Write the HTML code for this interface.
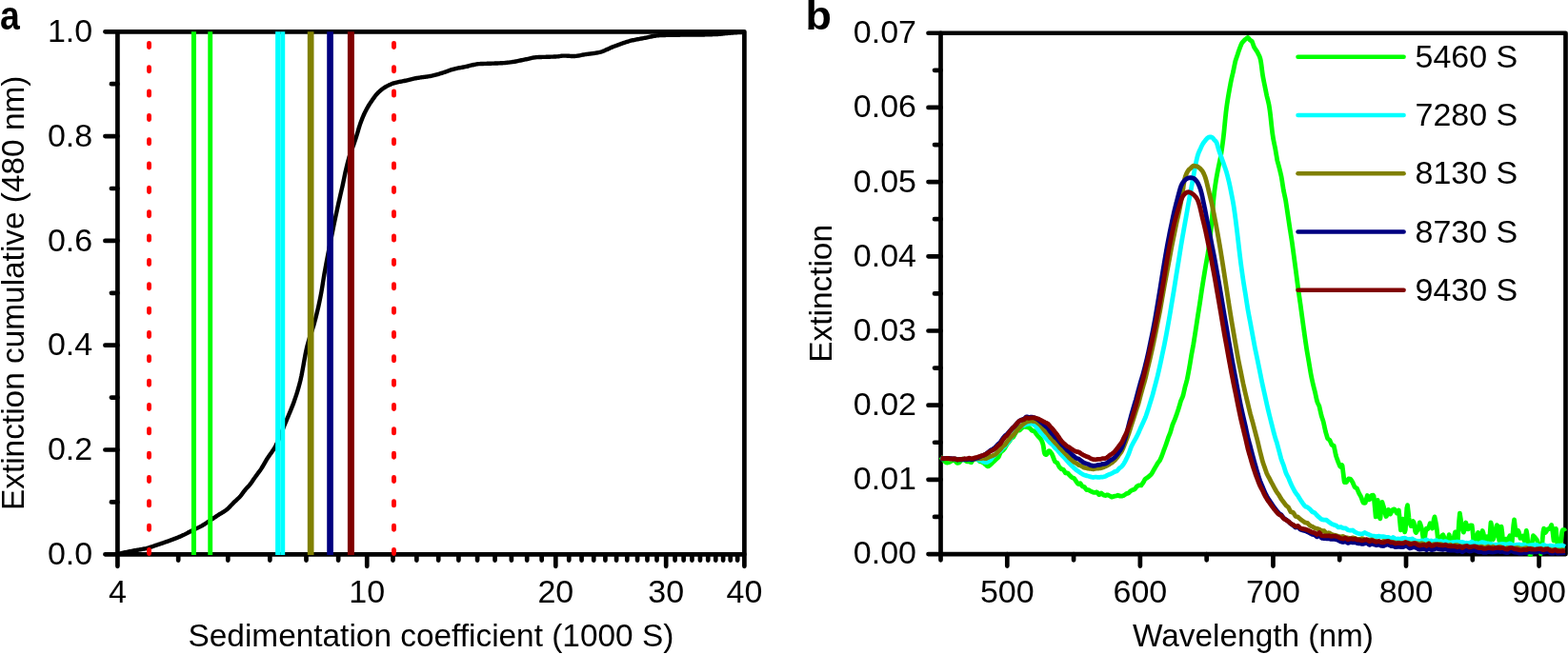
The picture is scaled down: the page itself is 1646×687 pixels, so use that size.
<!DOCTYPE html><html><head><meta charset="utf-8"><style>html,body{margin:0;padding:0;background:#fff;}body{width:1646px;height:687px;overflow:hidden;}svg{display:block;}text{font-family:"Liberation Sans",sans-serif;fill:#000;}.t{font-size:34px;}.lab{font-size:33.4px;}.pl{font-size:42px;font-weight:bold;}</style></head><body>
<svg width="1646" height="687" viewBox="0 0 1646 687">
<rect width="1646" height="687" fill="#fff"/>
<path d="M123.4,582 124.4,581.78 125.4,581.56 126.4,581.34 127.4,581.12 128.4,580.91 129.4,580.7 130.4,580.48 131.4,580.27 132.4,580.07 133.4,579.86 134.4,579.66 135.4,579.45 136.4,579.25 137.4,579.05 138.4,578.85 139.4,578.66 140.4,578.47 141.4,578.28 142.4,578.11 143.4,577.94 144.4,577.77 145.4,577.6 146.4,577.43 147.4,577.26 148.4,577.09 149.4,576.9 150.4,576.71 151.4,576.51 152.4,576.29 153.4,576.06 154.4,575.8 155.4,575.53 156.4,575.24 157.4,574.94 158.4,574.62 159.4,574.3 160.4,573.96 161.4,573.63 162.4,573.29 163.4,572.94 164.4,572.6 165.4,572.27 166.4,571.93 167.4,571.6 168.4,571.26 169.4,570.92 170.4,570.58 171.4,570.23 172.4,569.88 173.4,569.53 174.4,569.18 175.4,568.82 176.4,568.46 177.4,568.09 178.4,567.72 179.4,567.35 180.4,566.98 181.4,566.61 182.4,566.24 183.4,565.86 184.4,565.48 185.4,565.09 186.4,564.7 187.4,564.3 188.4,563.89 189.4,563.47 190.4,563.03 191.4,562.58 192.4,562.11 193.4,561.63 194.4,561.12 195.4,560.61 196.4,560.09 197.4,559.56 198.4,559.04 199.4,558.52 200.4,558 201.4,557.5 202.4,557.01 203.4,556.53 204.4,556.05 205.4,555.58 206.4,555.1 207.4,554.62 208.4,554.13 209.4,553.63 210.4,553.11 211.4,552.57 212.4,552 213.4,551.4 214.4,550.78 215.4,550.15 216.4,549.49 217.4,548.83 218.4,548.16 219.4,547.49 220.4,546.83 221.4,546.17 222.4,545.51 223.4,544.84 224.4,544.17 225.4,543.5 226.4,542.82 227.4,542.16 228.4,541.5 229.4,540.85 230.4,540.23 231.4,539.63 232.4,539.04 233.4,538.44 234.4,537.83 235.4,537.19 236.4,536.51 237.4,535.78 238.4,534.99 239.4,534.1 240.4,533.14 241.4,532.11 242.4,531.05 243.4,529.98 244.4,528.92 245.4,527.89 246.4,526.93 247.4,526.01 248.4,525.11 249.4,524.2 250.4,523.25 251.4,522.23 252.4,521.1 253.4,519.83 254.4,518.47 255.4,517.09 256.4,515.75 257.4,514.52 258.4,513.4 259.4,512.32 260.4,511.26 261.4,510.16 262.4,509 263.4,507.72 264.4,506.32 265.4,504.84 266.4,503.34 267.4,501.86 268.4,500.44 269.4,499.09 270.4,497.76 271.4,496.44 272.4,495.07 273.4,493.65 274.4,492.12 275.4,490.49 276.4,488.78 277.4,487.04 278.4,485.3 279.4,483.6 280.4,481.96 281.4,480.42 282.4,478.97 283.4,477.58 284.4,476.2 285.4,474.8 286.4,473.34 287.4,471.8 288.4,470.13 289.4,468.31 290.4,466.33 291.4,464.22 292.4,462 293.4,459.67 294.4,457.28 295.4,454.82 296.4,452.32 297.4,449.81 298.4,447.29 299.4,444.78 300.4,442.31 301.4,439.9 302.4,437.53 303.4,435.17 304.4,432.8 305.4,430.4 306.4,427.92 307.4,425.36 308.4,422.67 309.4,419.84 310.4,416.89 311.4,413.82 312.4,410.59 313.4,407.16 314.4,403.51 315.4,399.58 316.4,395.02 317.4,389.86 318.4,384.34 319.4,378.72 320.4,373.26 321.4,368.2 322.4,363.8 323.4,360.03 324.4,356.64 325.4,353.5 326.4,350.51 327.4,347.55 328.4,344.51 329.4,341.29 330.4,337.77 331.4,333.96 332.4,329.98 333.4,325.8 334.4,321.42 335.4,316.79 336.4,311.91 337.4,306.55 338.4,300.53 339.4,294.27 340.4,288.21 341.4,282.62 342.4,277.21 343.4,271.93 344.4,266.74 345.4,261.62 346.4,256.55 347.4,251.49 348.4,246.47 349.4,241.51 350.4,236.62 351.4,231.8 352.4,227.07 353.4,222.43 354.4,217.85 355.4,213.34 356.4,208.92 357.4,204.61 358.4,200.31 359.4,195.91 360.4,191.22 361.4,186.32 362.4,181.54 363.4,177.15 364.4,172.95 365.4,169.04 366.4,165.54 367.4,162.47 368.4,159.66 369.4,157 370.4,154.32 371.4,151.5 372.4,148.53 373.4,145.5 374.4,142.4 375.4,139.19 376.4,135.72 377.4,132.33 378.4,129.37 379.4,126.67 380.4,124.12 381.4,121.73 382.4,119.49 383.4,117.4 384.4,115.45 385.4,113.62 386.4,111.9 387.4,110.25 388.4,108.68 389.4,107.17 390.4,105.71 391.4,104.27 392.4,102.86 393.4,101.5 394.4,100.2 395.4,99 396.4,97.9 397.4,96.92 398.4,95.99 399.4,95.11 400.4,94.28 401.4,93.5 402.4,92.78 403.4,92.11 404.4,91.5 405.4,90.93 406.4,90.38 407.4,89.86 408.4,89.36 409.4,88.89 410.4,88.45 411.4,88.05 412.4,87.68 413.4,87.35 414.4,87.06 415.4,86.8 416.4,86.56 417.4,86.35 418.4,86.14 419.4,85.95 420.4,85.77 421.4,85.58 422.4,85.39 423.4,85.19 424.4,84.98 425.4,84.75 426.4,84.52 427.4,84.28 428.4,84.04 429.4,83.79 430.4,83.55 431.4,83.31 432.4,83.07 433.4,82.84 434.4,82.62 435.4,82.41 436.4,82.22 437.4,82.04 438.4,81.87 439.4,81.71 440.4,81.56 441.4,81.42 442.4,81.28 443.4,81.15 444.4,81.01 445.4,80.88 446.4,80.75 447.4,80.61 448.4,80.47 449.4,80.32 450.4,80.16 451.4,79.99 452.4,79.81 453.4,79.62 454.4,79.41 455.4,79.18 456.4,78.93 457.4,78.67 458.4,78.39 459.4,78.11 460.4,77.81 461.4,77.5 462.4,77.2 463.4,76.88 464.4,76.57 465.4,76.26 466.4,75.95 467.4,75.61 468.4,75.25 469.4,74.88 470.4,74.51 471.4,74.14 472.4,73.78 473.4,73.43 474.4,73.1 475.4,72.8 476.4,72.53 477.4,72.28 478.4,72.05 479.4,71.84 480.4,71.64 481.4,71.45 482.4,71.26 483.4,71.08 484.4,70.9 485.4,70.72 486.4,70.54 487.4,70.35 488.4,70.16 489.4,69.95 490.4,69.73 491.4,69.49 492.4,69.24 493.4,68.99 494.4,68.74 495.4,68.48 496.4,68.24 497.4,68.01 498.4,67.79 499.4,67.59 500.4,67.42 501.4,67.28 502.4,67.17 503.4,67.09 504.4,67.04 505.4,67 506.4,66.96 507.4,66.93 508.4,66.9 509.4,66.87 510.4,66.84 511.4,66.82 512.4,66.79 513.4,66.76 514.4,66.73 515.4,66.7 516.4,66.66 517.4,66.63 518.4,66.59 519.4,66.56 520.4,66.53 521.4,66.49 522.4,66.45 523.4,66.41 524.4,66.37 525.4,66.32 526.4,66.27 527.4,66.21 528.4,66.15 529.4,66.07 530.4,65.99 531.4,65.9 532.4,65.79 533.4,65.68 534.4,65.57 535.4,65.44 536.4,65.32 537.4,65.19 538.4,65.04 539.4,64.88 540.4,64.71 541.4,64.52 542.4,64.33 543.4,64.12 544.4,63.91 545.4,63.7 546.4,63.49 547.4,63.27 548.4,63.06 549.4,62.86 550.4,62.66 551.4,62.46 552.4,62.25 553.4,62.03 554.4,61.8 555.4,61.56 556.4,61.33 557.4,61.11 558.4,60.89 559.4,60.69 560.4,60.51 561.4,60.36 562.4,60.23 563.4,60.14 564.4,60.08 565.4,60.04 566.4,60 567.4,59.97 568.4,59.94 569.4,59.91 570.4,59.89 571.4,59.87 572.4,59.84 573.4,59.81 574.4,59.78 575.4,59.75 576.4,59.72 577.4,59.69 578.4,59.66 579.4,59.63 580.4,59.59 581.4,59.55 582.4,59.51 583.4,59.47 584.4,59.42 585.4,59.35 586.4,59.23 587.4,59.09 588.4,58.94 589.4,58.8 590.4,58.68 591.4,58.61 592.4,58.6 593.4,58.62 594.4,58.66 595.4,58.7 596.4,58.76 597.4,58.82 598.4,58.87 599.4,58.93 600.4,58.97 601.4,58.99 602.4,59 603.4,58.97 604.4,58.89 605.4,58.78 606.4,58.64 607.4,58.48 608.4,58.3 609.4,58.11 610.4,57.91 611.4,57.71 612.4,57.52 613.4,57.34 614.4,57.19 615.4,57.04 616.4,56.9 617.4,56.77 618.4,56.64 619.4,56.51 620.4,56.38 621.4,56.25 622.4,56.11 623.4,55.97 624.4,55.82 625.4,55.66 626.4,55.49 627.4,55.31 628.4,55.11 629.4,54.89 630.4,54.62 631.4,54.31 632.4,53.97 633.4,53.59 634.4,53.19 635.4,52.76 636.4,52.32 637.4,51.87 638.4,51.41 639.4,50.95 640.4,50.49 641.4,50.04 642.4,49.61 643.4,49.2 644.4,48.81 645.4,48.44 646.4,48.08 647.4,47.71 648.4,47.34 649.4,46.97 650.4,46.6 651.4,46.23 652.4,45.87 653.4,45.52 654.4,45.17 655.4,44.82 656.4,44.49 657.4,44.16 658.4,43.85 659.4,43.55 660.4,43.26 661.4,42.98 662.4,42.72 663.4,42.48 664.4,42.25 665.4,42.03 666.4,41.82 667.4,41.62 668.4,41.42 669.4,41.23 670.4,41.05 671.4,40.87 672.4,40.69 673.4,40.51 674.4,40.33 675.4,40.14 676.4,39.95 677.4,39.75 678.4,39.54 679.4,39.33 680.4,39.12 681.4,38.9 682.4,38.69 683.4,38.48 684.4,38.28 685.4,38.09 686.4,37.9 687.4,37.73 688.4,37.58 689.4,37.44 690.4,37.32 691.4,37.22 692.4,37.15 693.4,37.1 694.4,37.06 695.4,37.02 696.4,36.99 697.4,36.96 698.4,36.93 699.4,36.91 700.4,36.88 701.4,36.86 702.4,36.84 703.4,36.82 704.4,36.8 705.4,36.78 706.4,36.77 707.4,36.75 708.4,36.74 709.4,36.73 710.4,36.71 711.4,36.7 712.4,36.69 713.4,36.68 714.4,36.67 715.4,36.66 716.4,36.65 717.4,36.64 718.4,36.64 719.4,36.63 720.4,36.62 721.4,36.62 722.4,36.61 723.4,36.61 724.4,36.6 725.4,36.59 726.4,36.59 727.4,36.58 728.4,36.57 729.4,36.57 730.4,36.56 731.4,36.55 732.4,36.54 733.4,36.53 734.4,36.52 735.4,36.51 736.4,36.49 737.4,36.48 738.4,36.46 739.4,36.44 740.4,36.41 741.4,36.39 742.4,36.36 743.4,36.33 744.4,36.3 745.4,36.27 746.4,36.23 747.4,36.2 748.4,36.16 749.4,36.11 750.4,36.07 751.4,36.03 752.4,35.98 753.4,35.93 754.4,35.88 755.4,35.81 756.4,35.73 757.4,35.63 758.4,35.53 759.4,35.42 760.4,35.3 761.4,35.18 762.4,35.07 763.4,34.96 764.4,34.86 765.4,34.76 766.4,34.69 767.4,34.61 768.4,34.54 769.4,34.47 770.4,34.4 771.4,34.33 772.4,34.27 773.4,34.2 774.4,34.14 775.4,34.09 776.4,34.03 777.4,33.98 778.4,33.93 779.4,33.88 780.4,33.84 781.4,33.8" fill="none" stroke="#000" stroke-width="4.4" stroke-linejoin="round"/>
<path d="M123.4,582.3H110.4M123.4,527.4H116.9M123.4,472.5H110.4M123.4,417.6H116.9M123.4,362.7H110.4M123.4,307.8H116.9M123.4,252.9H110.4M123.4,198H116.9M123.4,143.1H110.4M123.4,88.2H116.9M123.4,33.3H110.4M123.4,582.3V594.8M187.17,582.3V588.6M239.27,582.3V588.6M283.32,582.3V588.6M321.48,582.3V588.6M355.14,582.3V588.6M385.24,582.3V594.8M412.48,582.3V588.6M437.35,582.3V588.6M460.22,582.3V588.6M481.4,582.3V588.6M501.11,582.3V588.6M519.56,582.3V588.6M536.88,582.3V588.6M553.21,582.3V588.6M568.66,582.3V588.6M583.32,582.3V594.8M597.26,582.3V588.6M610.56,582.3V588.6M623.26,582.3V588.6M635.42,582.3V588.6M647.09,582.3V588.6M658.3,582.3V588.6M669.08,582.3V588.6M679.47,582.3V588.6M689.5,582.3V588.6M699.19,582.3V594.8M708.56,582.3V588.6M717.63,582.3V588.6M726.43,582.3V588.6M734.96,582.3V588.6M743.24,582.3V588.6M751.29,582.3V588.6M759.12,582.3V588.6M766.74,582.3V588.6M774.17,582.3V588.6M781.4,582.3V594.8" stroke="#000" stroke-width="4.7" stroke-linecap="round" fill="none"/>
<rect x="123.4" y="33.3" width="658" height="549" fill="none" stroke="#000" stroke-width="4.7" stroke-linejoin="round"/>
<path d="M156.5,45.35V49.45M156.5,70.69V74.79M156.5,96.03V100.13M156.5,121.37V125.47M156.5,146.71V150.81M156.5,172.05V176.15M156.5,197.39V201.49M156.5,222.73V226.83M156.5,248.07V252.17M156.5,273.41V277.51M156.5,298.75V302.85M156.5,324.09V328.19M156.5,349.43V353.53M156.5,374.77V378.87M156.5,400.11V404.21M156.5,425.45V429.55M156.5,450.79V454.89M156.5,476.13V480.23M156.5,501.47V505.57M156.5,526.81V530.91M156.5,552.15V556.25M156.5,577.49V581.59" stroke="#f00" stroke-width="4.9" stroke-linecap="round" fill="none"/>
<path d="M413.5,45.35V49.45M413.5,70.69V74.79M413.5,96.03V100.13M413.5,121.37V125.47M413.5,146.71V150.81M413.5,172.05V176.15M413.5,197.39V201.49M413.5,222.73V226.83M413.5,248.07V252.17M413.5,273.41V277.51M413.5,298.75V302.85M413.5,324.09V328.19M413.5,349.43V353.53M413.5,374.77V378.87M413.5,400.11V404.21M413.5,425.45V429.55M413.5,450.79V454.89M413.5,476.13V480.23M413.5,501.47V505.57M413.5,526.81V530.91M413.5,552.15V556.25M413.5,577.49V581.59" stroke="#f00" stroke-width="4.9" stroke-linecap="round" fill="none"/>
<path d="M203.4,33.3V583.1" stroke="#00ff00" stroke-width="5.0" fill="none"/>
<path d="M220.7,33.3V583.1" stroke="#00ff00" stroke-width="4.9" fill="none"/>
<path d="M291.8,33.3V583.1" stroke="#00ffff" stroke-width="5.4" fill="none"/>
<path d="M296.8,33.3V583.1" stroke="#00ffff" stroke-width="4.8" fill="none"/>
<path d="M326.15,33.3V583.1" stroke="#808000" stroke-width="6.7" fill="none"/>
<path d="M346.55,33.3V583.1" stroke="#000080" stroke-width="6.7" fill="none"/>
<path d="M368.4,33.3V583.1" stroke="#800000" stroke-width="7.0" fill="none"/>
<text class="t" x="97.2" y="593" text-anchor="end">0.0</text>
<text class="t" x="97.2" y="483.2" text-anchor="end">0.2</text>
<text class="t" x="97.2" y="373.4" text-anchor="end">0.4</text>
<text class="t" x="97.2" y="263.6" text-anchor="end">0.6</text>
<text class="t" x="97.2" y="153.8" text-anchor="end">0.8</text>
<text class="t" x="97.2" y="44" text-anchor="end">1.0</text>
<text class="t" x="123.4" y="633" text-anchor="middle">4</text>
<text class="t" x="385.24" y="633" text-anchor="middle">10</text>
<text class="t" x="583.32" y="633" text-anchor="middle">20</text>
<text class="t" x="699.19" y="633" text-anchor="middle">30</text>
<text class="t" x="781.4" y="633" text-anchor="middle">40</text>
<text class="lab" x="452.4" y="679.3" text-anchor="middle">Sedimentation coefficient (1000 S)</text>
<text class="lab" transform="translate(24.6,307.8) rotate(-90)" text-anchor="middle">Extinction cumulative (480 nm)</text>
<text class="pl" transform="translate(0,31) scale(0.89,1)">a</text>
<path d="M987.5,582.05H974.5M987.5,542.96H981M987.5,503.86H974.5M987.5,464.77H981M987.5,425.68H974.5M987.5,386.59H981M987.5,347.49H974.5M987.5,308.4H981M987.5,269.31H974.5M987.5,230.21H981M987.5,191.12H974.5M987.5,152.03H981M987.5,112.94H974.5M987.5,73.84H981M987.5,34.75H974.5M987.5,582.05V588.35M1057.29,582.05V594.55M1127.07,582.05V588.35M1196.86,582.05V594.55M1266.65,582.05V588.35M1336.44,582.05V594.55M1406.22,582.05V588.35M1476.01,582.05V594.55M1545.8,582.05V588.35M1615.59,582.05V594.55" stroke="#000" stroke-width="4.7" stroke-linecap="round" fill="none"/>
<rect x="987.5" y="34.75" width="656" height="547.3" fill="none" stroke="#000" stroke-width="4.7" stroke-linejoin="round"/>
<path d="M987.5,479.89 988.12,480.66 988.75,481.56 989.37,482.15 990,482.77 990.64,483.4 991.27,484.07 991.91,484.76 992.56,485.37 993.21,485.88 993.87,486.04 994.53,486.03 995.2,485.82 995.88,485.66 996.58,485.46 997.28,485.2 998.01,484.77 998.75,484.25 999.52,483.85 1000.32,483.53 1001.14,483.34 1001.97,483.28 1002.8,484.29 1003.62,485.33 1004.41,486.12 1005.16,486.29 1005.85,486.29 1006.48,486.1 1007.04,485.82 1007.54,485.35 1008.01,484.79 1008.47,484.24 1008.93,483.48 1009.42,482.77 1009.96,482.33 1010.55,482.13 1011.19,482.29 1011.86,482.72 1012.56,483.21 1013.28,483.73 1014.02,484.27 1014.77,484.72 1015.52,484.97 1016.26,484.95 1016.98,484.78 1017.68,484.85 1018.34,485.32 1018.99,485.62 1019.63,485.75 1020.28,484.68 1020.94,483.6 1021.63,482.52 1022.36,481.96 1023.13,481.65 1023.93,481.44 1024.75,481.66 1025.57,482.02 1026.39,482.53 1027.2,483.32 1027.98,484.18 1028.72,484.73 1029.42,484.87 1030.1,485.08 1030.75,485.34 1031.38,485.64 1031.99,485.95 1032.6,486.25 1033.2,486.78 1033.8,487.38 1034.4,487.92 1035.02,488.38 1035.64,489 1036.29,489.5 1036.96,489.88 1037.64,489.76 1038.34,489.3 1039.04,488.74 1039.74,488.12 1040.44,487.46 1041.11,486.74 1041.77,486.06 1042.4,485.57 1042.99,485.05 1043.54,484.52 1044.07,484.02 1044.57,483.55 1045.05,483.08 1045.52,482.6 1045.98,482.12 1046.44,481.7 1046.9,481.28 1047.37,480.89 1047.86,480.52 1048.36,479.88 1048.88,478.61 1049.41,477.33 1049.96,476.06 1050.51,474.94 1051.06,474.52 1051.62,474.11 1052.17,473.69 1052.72,473.22 1053.26,472.6 1053.8,471.98 1054.32,471.34 1054.82,470.68 1055.32,469.8 1055.8,468.92 1056.28,468.04 1056.74,467.14 1057.2,466.44 1057.65,465.96 1058.1,465.47 1058.54,464.97 1058.98,464.47 1059.42,463.86 1059.85,463.15 1060.29,462.43 1060.73,461.72 1061.16,461.01 1061.6,460.49 1062.05,460.2 1062.5,459.91 1062.95,459.64 1063.42,459.39 1063.89,458.75 1064.37,457.87 1064.86,456.99 1065.36,456.12 1065.88,455.25 1066.4,454.34 1066.95,453.45 1067.5,452.56 1068.08,451.81 1068.67,451.85 1069.28,451.94 1069.91,452.07 1070.56,451.76 1071.23,451.07 1071.93,450.41 1072.65,449.73 1073.38,449.01 1074.12,448.33 1074.87,447.98 1075.63,448.18 1076.39,448.44 1077.15,448.62 1077.9,448.67 1078.64,448.81 1079.37,448.99 1080.08,449.22 1080.77,449.54 1081.45,450.06 1082.12,450.84 1082.77,451.66 1083.43,452.45 1084.08,452.5 1084.72,452.54 1085.37,452.54 1086.02,453.18 1086.67,454.13 1087.31,455.07 1087.94,455.97 1088.55,456.77 1089.15,457.55 1089.74,458.33 1090.3,458.93 1090.84,459.4 1091.35,459.88 1091.83,460.39 1092.29,460.94 1092.71,461.58 1093.1,462.24 1093.47,462.94 1093.8,463.67 1094.11,464.44 1094.4,465.25 1094.66,466.07 1094.89,466.94 1095.11,467.85 1095.3,468.82 1095.46,469.83 1095.61,470.9 1095.75,471.99 1095.89,473.07 1096.05,474.11 1096.23,475.06 1096.45,475.9 1096.73,476.61 1097.06,477.17 1097.48,477.52 1097.98,477.64 1098.57,477.49 1099.24,476.61 1099.95,475.32 1100.66,474.05 1101.34,473.58 1101.94,473.91 1102.47,474.45 1102.94,475.16 1103.34,475.76 1103.71,476.06 1104.04,476.53 1104.34,477.12 1104.64,477.79 1104.93,478.49 1105.24,479.18 1105.56,480.07 1105.92,481.18 1106.31,482.23 1106.74,483.23 1107.2,484.18 1107.68,485 1108.19,485.34 1108.71,485.62 1109.26,485.87 1109.81,486.1 1110.38,487.28 1110.95,488.46 1111.53,489.64 1112.11,490.71 1112.69,491.27 1113.27,491.83 1113.86,492.4 1114.44,492.8 1115.02,492.94 1115.61,493.09 1116.2,493.24 1116.78,493.95 1117.37,494.95 1117.96,495.95 1118.55,496.96 1119.15,496.98 1119.74,496.92 1120.34,496.86 1120.94,496.98 1121.54,497.73 1122.14,498.47 1122.74,499.21 1123.35,499.84 1123.95,500.38 1124.56,500.92 1125.17,501.45 1125.79,501.7 1126.4,501.93 1127.02,502.15 1127.64,502.64 1128.27,503.55 1128.89,504.46 1129.52,505.36 1130.15,506.27 1130.78,507.17 1131.42,508.07 1132.06,508.49 1132.7,508.21 1133.35,507.93 1133.99,507.63 1134.64,508.61 1135.3,509.6 1135.96,510.59 1136.62,511.06 1137.28,511.23 1137.95,511.39 1138.62,511.81 1139.29,512.77 1139.97,513.73 1140.65,514.61 1141.34,514.65 1142.03,514.68 1142.72,514.7 1143.42,515.09 1144.12,515.51 1144.82,515.92 1145.53,516.27 1146.25,516.59 1146.97,516.9 1147.69,517.12 1148.41,517.3 1149.14,517.47 1149.88,517.37 1150.62,517.13 1151.36,516.87 1152.11,517.52 1152.87,518.6 1153.62,519.67 1154.39,519.4 1155.15,518.72 1155.92,518.03 1156.69,518.56 1157.47,519.23 1158.25,519.87 1159.03,520.14 1159.82,520.4 1160.61,520.5 1161.4,520.16 1162.19,519.81 1162.99,519.86 1163.79,520.3 1164.59,520.75 1165.39,521.2 1166.2,521.66 1167.01,522.12 1167.81,521.86 1168.62,521.59 1169.43,521.36 1170.25,521.21 1171.06,521.05 1171.86,520.83 1172.67,520.56 1173.47,520.27 1174.26,520.53 1175.04,520.86 1175.82,521.13 1176.58,521.16 1177.34,521.12 1178.08,521.02 1178.81,520.78 1179.52,520.49 1180.23,520.15 1180.93,519.64 1181.63,519.09 1182.31,518.53 1182.99,518.38 1183.67,518.27 1184.34,518.16 1185.01,517.67 1185.68,516.93 1186.34,516.21 1187.01,515.61 1187.67,515.28 1188.33,514.96 1188.99,514.63 1189.64,514.4 1190.3,514.16 1190.95,513.93 1191.59,513.31 1192.24,512.46 1192.88,511.6 1193.52,510.84 1194.15,510.52 1194.78,510.19 1195.4,509.86 1196.03,509.81 1196.64,509.9 1197.26,509.97 1197.86,509.94 1198.47,509.14 1199.07,508.34 1199.66,507.53 1200.25,506.61 1200.84,505.55 1201.42,504.48 1201.99,503.41 1202.56,502.84 1203.13,502.54 1203.69,502.24 1204.24,501.93 1204.79,501.52 1205.33,501.06 1205.87,500.6 1206.4,500.13 1206.93,499.66 1207.45,499.18 1207.96,498.69 1208.47,498.2 1208.97,497.58 1209.47,496.72 1209.96,495.85 1210.44,494.99 1210.92,494.12 1211.39,493.31 1211.85,492.52 1212.31,491.73 1212.76,490.93 1213.2,490.13 1213.63,489.41 1214.06,488.69 1214.48,487.97 1214.9,487.24 1215.31,486.52 1215.7,485.98 1216.1,485.5 1216.48,485.02 1216.86,484.52 1217.23,484.02 1217.59,483.51 1217.94,482.76 1218.29,481.99 1218.63,481.23 1218.96,480.46 1219.29,479.69 1219.61,478.92 1219.92,478.13 1220.23,477.29 1220.53,476.46 1220.83,475.62 1221.13,474.79 1221.42,473.95 1221.7,473.11 1221.98,472.28 1222.26,471.57 1222.53,470.86 1222.81,470.15 1223.07,469.44 1223.34,468.73 1223.6,468.01 1223.86,467.3 1224.12,466.58 1224.38,465.82 1224.64,465.05 1224.9,464.27 1225.15,463.49 1225.41,462.71 1225.66,461.93 1225.92,461.15 1226.17,460.37 1226.42,459.6 1226.68,458.96 1226.93,458.32 1227.19,457.68 1227.44,457.04 1227.7,456.4 1227.95,455.76 1228.21,455.12 1228.46,454.48 1228.72,453.72 1228.97,452.81 1229.23,451.9 1229.49,450.99 1229.75,450.08 1230.01,449.17 1230.27,448.26 1230.53,447.35 1230.79,446.44 1231.06,445.81 1231.32,445.18 1231.59,444.55 1231.85,443.92 1232.12,443.29 1232.39,442.66 1232.65,442.04 1232.92,441.41 1233.19,440.72 1233.46,440 1233.73,439.29 1233.99,438.57 1234.26,437.85 1234.53,437.14 1234.8,436.42 1235.07,435.71 1235.33,434.95 1235.6,434.16 1235.86,433.36 1236.13,432.56 1236.39,431.77 1236.66,430.97 1236.92,430.18 1237.18,429.38 1237.45,428.57 1237.71,427.67 1237.97,426.77 1238.22,425.87 1238.48,424.98 1238.74,424.08 1238.99,423.18 1239.24,422.29 1239.49,421.39 1239.74,420.7 1239.99,420.16 1240.23,419.62 1240.48,419.08 1240.72,418.53 1240.96,417.98 1241.2,417.43 1241.43,416.88 1241.67,416.32 1241.9,415.59 1242.13,414.64 1242.35,413.69 1242.58,412.74 1242.8,411.79 1243.01,410.84 1243.23,409.89 1243.44,408.94 1243.65,408 1243.86,407.06 1244.06,406.2 1244.26,405.52 1244.46,404.83 1244.66,404.15 1244.85,403.46 1245.04,402.77 1245.23,402.08 1245.42,401.39 1245.6,400.69 1245.78,400 1245.96,399.3 1246.14,398.6 1246.31,397.8 1246.49,396.93 1246.66,396.07 1246.83,395.21 1246.99,394.35 1247.16,393.48 1247.32,392.62 1247.48,391.76 1247.64,390.9 1247.8,390.04 1247.95,389.18 1248.11,388.33 1248.26,387.47 1248.41,386.61 1248.56,385.76 1248.7,384.92 1248.85,384.07 1249,383.23 1249.14,382.38 1249.28,381.54 1249.42,380.69 1249.56,379.85 1249.7,379 1249.84,378.16 1249.98,377.31 1250.11,376.47 1250.25,375.62 1250.38,374.78 1250.52,373.94 1250.65,373.15 1250.78,372.47 1250.91,371.78 1251.04,371.1 1251.17,370.41 1251.3,369.73 1251.43,369.04 1251.56,368.35 1251.68,367.67 1251.81,366.98 1251.94,366.29 1252.07,365.6 1252.19,364.92 1252.32,364.23 1252.45,363.54 1252.57,362.85 1252.7,362.16 1252.83,361.45 1252.95,360.67 1253.08,359.88 1253.2,359.09 1253.33,358.3 1253.45,357.52 1253.58,356.73 1253.7,355.94 1253.83,355.16 1253.95,354.37 1254.08,353.58 1254.2,352.79 1254.32,352.01 1254.45,351.22 1254.57,350.43 1254.7,349.65 1254.82,348.86 1254.94,348.07 1255.07,347.27 1255.19,346.46 1255.31,345.66 1255.44,344.85 1255.56,344.04 1255.68,343.23 1255.8,342.42 1255.93,341.61 1256.05,340.8 1256.17,340 1256.3,339.19 1256.42,338.38 1256.54,337.57 1256.66,336.76 1256.79,335.95 1256.91,335.15 1257.03,334.34 1257.15,333.53 1257.28,332.74 1257.4,331.97 1257.52,331.2 1257.64,330.43 1257.77,329.65 1257.89,328.88 1258.01,328.11 1258.13,327.34 1258.26,326.56 1258.38,325.79 1258.5,325.02 1258.62,324.25 1258.75,323.47 1258.87,322.7 1258.99,321.93 1259.11,321.16 1259.24,320.38 1259.36,319.61 1259.48,318.8 1259.6,317.96 1259.73,317.12 1259.85,316.29 1259.97,315.45 1260.1,314.62 1260.22,313.78 1260.34,312.94 1260.47,312.11 1260.59,311.27 1260.71,310.43 1260.84,309.59 1260.96,308.76 1261.08,307.92 1261.21,307.08 1261.33,306.25 1261.46,305.41 1261.58,304.57 1261.71,303.77 1261.83,302.98 1261.96,302.18 1262.08,301.39 1262.21,300.59 1262.33,299.8 1262.46,299.01 1262.58,298.21 1262.71,297.42 1262.83,296.62 1262.96,295.83 1263.09,295.03 1263.21,294.24 1263.34,293.44 1263.47,292.65 1263.59,291.85 1263.72,291.06 1263.85,290.28 1263.98,289.52 1264.1,288.76 1264.23,288 1264.36,287.24 1264.49,286.48 1264.61,285.72 1264.74,284.96 1264.87,284.2 1264.99,283.44 1265.12,282.68 1265.25,281.91 1265.38,281.15 1265.5,280.39 1265.63,279.63 1265.75,278.87 1265.88,278.11 1266.01,277.35 1266.13,276.67 1266.26,275.98 1266.38,275.3 1266.51,274.62 1266.63,273.93 1266.75,273.24 1266.88,272.56 1267,271.87 1267.12,271.18 1267.24,270.5 1267.36,269.81 1267.49,269.12 1267.61,268.43 1267.73,267.74 1267.85,267.05 1267.96,266.36 1268.08,265.67 1268.2,264.98 1268.32,264.14 1268.43,263.29 1268.55,262.45 1268.66,261.61 1268.78,260.76 1268.89,259.92 1269,259.08 1269.11,258.24 1269.22,257.39 1269.33,256.55 1269.44,255.71 1269.55,254.87 1269.66,254.03 1269.77,253.19 1269.87,252.35 1269.98,251.51 1270.08,250.67 1270.18,249.83 1270.28,248.99 1270.38,248.15 1270.48,247.31 1270.58,246.46 1270.68,245.61 1270.78,244.77 1270.87,243.92 1270.96,243.08 1271.06,242.23 1271.15,241.39 1271.24,240.54 1271.33,239.7 1271.42,238.86 1271.5,238.01 1271.59,237.17 1271.67,236.33 1271.75,235.49 1271.84,234.65 1271.92,233.81 1271.99,232.97 1272.07,232.13 1272.15,231.3 1272.22,230.46 1272.29,229.62 1272.36,228.79 1272.43,227.95 1272.5,227.12 1272.57,226.29 1272.63,225.49 1272.7,224.72 1272.76,223.95 1272.82,223.18 1272.88,222.41 1272.95,221.64 1273.01,220.86 1273.07,220.09 1273.13,219.32 1273.19,218.55 1273.25,217.78 1273.31,217.01 1273.37,216.24 1273.43,215.47 1273.49,214.7 1273.56,213.93 1273.62,213.16 1273.68,212.39 1273.75,211.62 1273.82,210.86 1273.89,210.09 1273.96,209.32 1274.03,208.56 1274.11,207.8 1274.18,207.03 1274.26,206.27 1274.34,205.51 1274.43,204.76 1274.51,204 1274.6,203.24 1274.69,202.49 1274.79,201.74 1274.89,200.91 1274.99,200.08 1275.09,199.24 1275.2,198.4 1275.31,197.56 1275.43,196.72 1275.54,195.88 1275.66,195.04 1275.78,194.2 1275.91,193.35 1276.04,192.51 1276.17,191.66 1276.3,190.82 1276.43,189.97 1276.57,189.13 1276.71,188.28 1276.85,187.43 1276.99,186.58 1277.13,185.79 1277.28,185 1277.42,184.22 1277.57,183.43 1277.72,182.65 1277.87,181.86 1278.02,181.07 1278.17,180.29 1278.32,179.5 1278.47,178.72 1278.62,177.94 1278.78,177.15 1278.93,176.37 1279.08,175.58 1279.24,174.82 1279.39,174.11 1279.54,173.41 1279.69,172.71 1279.85,172.01 1280,171.3 1280.15,170.6 1280.3,169.89 1280.45,169.19 1280.6,168.49 1280.74,167.78 1280.89,167.07 1281.03,166.37 1281.18,165.66 1281.32,164.95 1281.46,164.18 1281.6,163.31 1281.74,162.45 1281.87,161.59 1282.01,160.73 1282.14,159.87 1282.27,159.01 1282.4,158.15 1282.53,157.29 1282.66,156.43 1282.78,155.57 1282.9,154.72 1283.03,153.86 1283.15,153.01 1283.26,152.15 1283.38,151.3 1283.49,150.44 1283.61,149.59 1283.72,148.75 1283.83,147.91 1283.93,147.07 1284.04,146.22 1284.14,145.38 1284.24,144.54 1284.34,143.7 1284.44,142.86 1284.53,142.02 1284.62,141.19 1284.71,140.35 1284.8,139.51 1284.89,138.67 1284.97,137.83 1285.06,136.99 1285.14,136.16 1285.22,135.32 1285.3,134.48 1285.38,133.64 1285.46,132.81 1285.54,131.97 1285.62,131.13 1285.7,130.3 1285.77,129.46 1285.85,128.66 1285.93,127.89 1286,127.11 1286.08,126.34 1286.16,125.56 1286.24,124.79 1286.32,124.02 1286.39,123.24 1286.48,122.47 1286.56,121.7 1286.64,120.93 1286.72,120.16 1286.81,119.39 1286.89,118.62 1286.98,117.86 1287.07,117.09 1287.16,116.33 1287.26,115.57 1287.35,114.81 1287.45,114.05 1287.54,113.29 1287.64,112.53 1287.74,111.78 1287.85,111.02 1287.95,110.26 1288.06,109.52 1288.16,108.77 1288.27,108.03 1288.38,107.29 1288.49,106.55 1288.61,105.81 1288.72,105.07 1288.84,104.33 1288.96,103.6 1289.08,102.86 1289.2,102.12 1289.32,101.39 1289.44,100.65 1289.57,99.92 1289.7,99.19 1289.83,98.45 1289.96,97.72 1290.09,96.99 1290.22,96.25 1290.36,95.46 1290.5,94.68 1290.63,93.9 1290.77,93.11 1290.91,92.33 1291.06,91.54 1291.2,90.75 1291.35,89.97 1291.5,89.18 1291.64,88.39 1291.8,87.6 1291.95,86.81 1292.1,86.02 1292.26,85.23 1292.41,84.45 1292.57,83.73 1292.73,83 1292.89,82.28 1293.06,81.56 1293.22,80.84 1293.39,80.12 1293.55,79.4 1293.72,78.69 1293.9,77.97 1294.07,77.26 1294.24,76.54 1294.42,75.83 1294.6,75.12 1294.78,74.19 1294.96,73.26 1295.14,72.33 1295.33,71.39 1295.52,70.46 1295.71,69.53 1295.9,68.6 1296.09,67.67 1296.29,66.74 1296.48,65.81 1296.68,64.88 1296.88,64.07 1297.09,63.43 1297.29,62.79 1297.5,62.16 1297.71,61.53 1297.92,60.91 1298.13,60.29 1298.35,59.68 1298.57,59.07 1298.79,58.47 1299.01,57.86 1299.24,57.1 1299.47,56.35 1299.71,55.59 1299.96,54.83 1300.21,54.06 1300.48,53.29 1300.75,52.52 1301.03,51.73 1301.33,50.93 1301.63,50.09 1301.95,49.25 1302.29,48.38 1302.64,47.51 1303,46.62 1303.39,45.73 1303.79,45.1 1304.22,44.5 1304.66,43.95 1305.14,43.46 1305.63,43.01 1306.16,42.37 1306.72,41.8 1307.3,41.32 1307.92,40.88 1308.58,40.32 1309.26,39.85 1309.95,39.51 1310.62,40.12 1311.24,40.88 1311.81,41.7 1312.33,42.36 1312.81,42.46 1313.26,42.67 1313.67,42.97 1314.06,43.34 1314.43,43.82 1314.8,44.8 1315.15,45.8 1315.51,46.8 1315.87,47.79 1316.25,48.76 1316.65,49.68 1317.06,50.38 1317.48,51.04 1317.92,51.68 1318.35,52.31 1318.79,52.92 1319.22,53.61 1319.63,54.3 1320.03,55 1320.4,55.7 1320.75,56.42 1321.08,57.09 1321.38,57.63 1321.67,58.19 1321.94,58.77 1322.19,59.37 1322.42,59.98 1322.64,60.62 1322.84,61.27 1323.02,61.94 1323.2,62.62 1323.36,63.44 1323.51,64.26 1323.66,65.09 1323.79,65.91 1323.91,66.74 1324.03,67.58 1324.15,68.41 1324.26,69.25 1324.36,70.09 1324.47,70.93 1324.57,71.77 1324.67,72.62 1324.78,73.46 1324.88,74.3 1324.99,75.14 1325.1,75.98 1325.22,76.82 1325.34,77.66 1325.46,78.48 1325.59,79.28 1325.73,80.07 1325.86,80.86 1326,81.65 1326.15,82.44 1326.29,83.23 1326.44,84.01 1326.6,84.79 1326.75,85.58 1326.91,86.36 1327.07,87.13 1327.23,87.91 1327.39,88.69 1327.56,89.46 1327.73,90.3 1327.89,91.16 1328.06,92.02 1328.23,92.87 1328.41,93.73 1328.58,94.59 1328.75,95.45 1328.92,96.3 1329.1,97.16 1329.27,98.02 1329.44,98.87 1329.61,99.73 1329.79,100.58 1329.96,101.25 1330.13,101.9 1330.3,102.55 1330.46,103.2 1330.63,103.85 1330.79,104.51 1330.96,105.16 1331.12,105.82 1331.28,106.48 1331.43,107.15 1331.59,107.81 1331.74,108.48 1331.88,109.15 1332.03,109.86 1332.17,110.69 1332.31,111.52 1332.44,112.35 1332.57,113.18 1332.7,114.01 1332.82,114.84 1332.94,115.67 1333.06,116.5 1333.17,117.33 1333.27,118.16 1333.38,118.99 1333.48,119.82 1333.58,120.65 1333.67,121.48 1333.77,122.31 1333.86,123.14 1333.95,123.97 1334.03,124.8 1334.12,125.63 1334.21,126.46 1334.29,127.25 1334.37,128.04 1334.46,128.83 1334.54,129.62 1334.62,130.4 1334.71,131.19 1334.79,131.98 1334.88,132.77 1334.96,133.56 1335.05,134.35 1335.14,135.14 1335.23,135.92 1335.32,136.71 1335.42,137.5 1335.51,138.28 1335.61,139.07 1335.71,139.85 1335.82,140.63 1335.93,141.41 1336.04,142.19 1336.16,142.97 1336.28,143.74 1336.4,144.52 1336.53,145.26 1336.66,145.99 1336.79,146.72 1336.93,147.45 1337.07,148.18 1337.21,148.91 1337.35,149.64 1337.5,150.36 1337.65,151.08 1337.8,151.8 1337.96,152.52 1338.11,153.24 1338.27,153.95 1338.43,154.67 1338.59,155.38 1338.76,156.37 1338.92,157.38 1339.09,158.38 1339.25,159.39 1339.42,160.4 1339.59,161.41 1339.76,162.42 1339.94,163.43 1340.11,164.44 1340.28,165.45 1340.45,166.47 1340.63,167.48 1340.8,168.49 1340.98,169.12 1341.15,169.76 1341.32,170.39 1341.5,171.02 1341.67,171.65 1341.84,172.29 1342.02,172.92 1342.19,173.56 1342.36,174.19 1342.53,174.83 1342.7,175.47 1342.87,176.1 1343.04,176.75 1343.2,177.44 1343.37,178.12 1343.53,178.81 1343.7,179.5 1343.86,180.19 1344.02,180.88 1344.18,181.57 1344.34,182.26 1344.5,182.95 1344.66,183.64 1344.82,184.33 1344.98,185.03 1345.13,185.72 1345.29,186.57 1345.44,187.54 1345.6,188.51 1345.75,189.48 1345.9,190.44 1346.06,191.41 1346.21,192.37 1346.36,193.34 1346.51,194.3 1346.65,195.26 1346.8,196.22 1346.95,197.18 1347.1,198.14 1347.24,199.1 1347.39,200.06 1347.53,200.73 1347.67,201.37 1347.82,202.01 1347.96,202.66 1348.1,203.3 1348.24,203.95 1348.38,204.59 1348.52,205.24 1348.66,205.89 1348.8,206.53 1348.94,207.18 1349.07,207.83 1349.21,208.48 1349.35,209.13 1349.48,209.78 1349.62,210.46 1349.75,211.33 1349.88,212.2 1350.02,213.06 1350.15,213.93 1350.28,214.8 1350.41,215.66 1350.54,216.53 1350.67,217.4 1350.8,218.26 1350.93,219.13 1351.06,219.99 1351.19,220.86 1351.32,221.72 1351.44,222.59 1351.57,223.45 1351.7,224.32 1351.82,225.17 1351.95,225.99 1352.07,226.8 1352.2,227.62 1352.32,228.43 1352.44,229.25 1352.56,230.06 1352.69,230.88 1352.81,231.69 1352.93,232.51 1353.05,233.32 1353.17,234.14 1353.29,234.95 1353.41,235.77 1353.53,236.58 1353.65,237.4 1353.77,238.21 1353.88,239.03 1354,239.84 1354.12,240.56 1354.23,241.28 1354.35,242 1354.47,242.72 1354.58,243.44 1354.7,244.16 1354.81,244.88 1354.93,245.6 1355.04,246.32 1355.15,247.04 1355.27,247.76 1355.38,248.49 1355.49,249.21 1355.61,249.93 1355.72,250.65 1355.83,251.38 1355.94,252.1 1356.05,252.82 1356.16,253.55 1356.28,254.32 1356.39,255.13 1356.5,255.93 1356.61,256.73 1356.72,257.53 1356.83,258.33 1356.93,259.14 1357.04,259.94 1357.15,260.74 1357.26,261.54 1357.37,262.34 1357.48,263.15 1357.58,263.95 1357.69,264.75 1357.8,265.55 1357.91,266.36 1358.01,267.16 1358.12,267.96 1358.23,268.76 1358.33,269.56 1358.44,270.36 1358.55,271.15 1358.65,271.94 1358.76,272.73 1358.86,273.51 1358.97,274.3 1359.07,275.09 1359.18,275.88 1359.28,276.67 1359.39,277.45 1359.49,278.24 1359.6,279.03 1359.7,279.82 1359.81,280.61 1359.91,281.4 1360.02,282.18 1360.12,282.97 1360.23,283.76 1360.33,284.55 1360.44,285.34 1360.54,286.13 1360.64,286.92 1360.75,287.74 1360.85,288.55 1360.96,289.36 1361.06,290.17 1361.16,290.98 1361.27,291.79 1361.37,292.6 1361.48,293.41 1361.58,294.22 1361.68,295.03 1361.79,295.84 1361.89,296.65 1362,297.46 1362.1,298.27 1362.2,299.08 1362.31,299.89 1362.41,300.7 1362.52,301.51 1362.62,302.33 1362.72,303.14 1362.83,303.92 1362.93,304.65 1363.04,305.38 1363.14,306.11 1363.25,306.84 1363.35,307.57 1363.46,308.3 1363.56,309.03 1363.67,309.76 1363.77,310.48 1363.88,311.21 1363.98,311.94 1364.09,312.67 1364.2,313.4 1364.3,314.13 1364.41,314.85 1364.51,315.58 1364.62,316.31 1364.73,317.04 1364.83,317.76 1364.94,318.49 1365.05,319.25 1365.16,320.06 1365.26,320.87 1365.37,321.68 1365.48,322.49 1365.59,323.3 1365.7,324.11 1365.8,324.92 1365.91,325.73 1366.02,326.54 1366.13,327.35 1366.24,328.16 1366.35,328.97 1366.46,329.78 1366.57,330.59 1366.68,331.4 1366.79,332.21 1366.91,333.02 1367.02,333.83 1367.13,334.64 1367.24,335.46 1367.35,336.3 1367.47,337.14 1367.58,337.99 1367.69,338.83 1367.81,339.67 1367.92,340.51 1368.04,341.36 1368.15,342.2 1368.27,343.04 1368.38,343.88 1368.5,344.73 1368.62,345.57 1368.73,346.41 1368.85,347.26 1368.97,348.1 1369.09,348.95 1369.2,349.79 1369.32,350.63 1369.44,351.48 1369.56,352.33 1369.68,353.18 1369.8,354.02 1369.92,354.87 1370.04,355.72 1370.17,356.57 1370.29,357.42 1370.41,358.27 1370.53,359.12 1370.66,359.97 1370.78,360.82 1370.91,361.67 1371.03,362.52 1371.16,363.37 1371.28,364.22 1371.41,365.07 1371.54,365.92 1371.66,366.73 1371.79,367.5 1371.92,368.27 1372.05,369.04 1372.18,369.8 1372.31,370.57 1372.44,371.34 1372.57,372.1 1372.7,372.87 1372.84,373.64 1372.97,374.4 1373.1,375.17 1373.24,375.94 1373.37,376.7 1373.51,377.47 1373.64,378.23 1373.78,379 1373.92,379.84 1374.06,380.69 1374.2,381.54 1374.33,382.39 1374.47,383.24 1374.61,384.09 1374.76,384.94 1374.9,385.79 1375.04,386.65 1375.18,387.52 1375.33,388.4 1375.47,389.28 1375.62,390.17 1375.76,391.05 1375.91,391.94 1376.06,392.78 1376.2,393.52 1376.35,394.27 1376.5,395 1376.65,395.74 1376.8,396.47 1376.95,397.2 1377.11,397.93 1377.26,398.65 1377.41,399.37 1377.57,400.09 1377.72,400.8 1377.88,401.51 1378.04,402.22 1378.2,402.92 1378.36,403.61 1378.52,404.29 1378.68,404.96 1378.84,405.63 1379,406.3 1379.17,406.96 1379.33,407.61 1379.5,408.26 1379.67,408.91 1379.84,409.55 1380.01,410.19 1380.18,410.82 1380.35,411.44 1380.52,412.2 1380.7,413.02 1380.87,413.84 1381.05,414.67 1381.23,415.49 1381.41,416.32 1381.59,417.14 1381.77,417.97 1381.95,418.8 1382.14,419.63 1382.33,420.46 1382.51,421.3 1382.7,421.94 1382.89,422.4 1383.08,422.86 1383.28,423.3 1383.47,423.74 1383.67,424.16 1383.87,424.57 1384.07,424.97 1384.27,425.36 1384.47,425.73 1384.68,426.09 1384.88,426.67 1385.09,427.61 1385.3,428.54 1385.51,429.49 1385.72,430.44 1385.94,431.39 1386.15,432.36 1386.37,433.33 1386.59,434.3 1386.81,435.29 1387.04,436.23 1387.26,436.96 1387.49,437.68 1387.72,438.4 1387.95,439.12 1388.18,439.84 1388.41,440.56 1388.65,441.28 1388.89,441.99 1389.13,442.71 1389.37,443.71 1389.62,444.83 1389.86,445.96 1390.11,447.1 1390.36,448.26 1390.62,449.43 1390.87,450.61 1391.13,451.8 1391.39,453.01 1391.65,453.92 1391.91,454.82 1392.18,455.72 1392.45,456.63 1392.72,457.54 1392.99,458.45 1393.27,459.37 1393.54,460.29 1393.82,460.7 1394.11,460.96 1394.39,461.2 1394.68,461.43 1394.97,461.64 1395.26,461.83 1395.55,462.01 1395.85,462.26 1396.15,462.97 1396.45,463.68 1396.75,464.38 1397.06,465.09 1397.37,465.79 1397.68,466.49 1397.99,467.19 1398.3,467.4 1398.62,467.58 1398.94,467.74 1399.26,467.89 1399.59,468.02 1399.91,468.13 1400.24,468.41 1400.57,469.95 1400.9,471.51 1401.24,473.1 1401.58,474.7 1401.92,476.32 1402.26,477.97 1402.6,479.22 1402.95,480.2 1403.29,481.18 1403.64,482.16 1404,483.15 1404.35,484.15 1404.71,485.11 1405.06,485.99 1405.43,486.86 1405.79,487.74 1406.15,488.62 1406.52,489.51 1406.89,490.13 1407.26,489.86 1407.63,489.58 1408,489.26 1408.38,488.93 1408.76,488.57 1409.14,489.43 1409.52,492.54 1409.9,495.7 1410.29,498.91 1410.68,502.17 1411.07,505.5 1411.46,506.66 1411.86,506.67 1412.26,506.67 1412.67,506.64 1413.08,506.58 1413.49,506.38 1413.92,505.73 1414.35,505.04 1414.78,504.29 1415.23,503.49 1415.68,502.81 1416.14,502.93 1416.61,503.02 1417.09,503.08 1417.58,503.11 1418.07,503.59 1418.58,504.46 1419.1,505.32 1419.63,506.19 1420.18,507.2 1420.73,508.5 1421.28,509.81 1421.85,511.15 1422.43,512.07 1423.02,512.32 1423.61,512.56 1424.21,512.78 1424.82,513.85 1425.43,515.32 1426.06,516.82 1426.69,518.28 1427.32,519.39 1427.96,520.5 1428.61,521.63 1429.26,523.24 1429.91,525.08 1430.57,526.94 1431.24,528.18 1431.9,528.24 1432.57,528.28 1433.25,528.14 1433.92,525.68 1434.6,523.15 1435.28,520.55 1435.96,521.46 1436.65,523.14 1437.33,524.83 1438.02,524.58 1438.7,523.02 1439.39,521.43 1440.07,520.4 1440.76,520.26 1441.44,520.1 1442.12,521.25 1442.81,528.37 1443.49,535.6 1444.17,542.94 1444.85,537.58 1445.53,531.49 1446.2,525.3 1446.88,528.67 1447.56,536.05 1448.23,543.52 1448.91,544.8 1449.58,538.57 1450.26,532.23 1450.93,527.48 1451.6,529.64 1452.27,531.81 1452.94,533.98 1453.61,536.76 1454.27,539.61 1454.94,542.46 1455.61,541.98 1456.27,539.37 1456.93,536.77 1457.6,535.4 1458.26,536.91 1458.92,538.43 1459.59,539.95 1460.25,538.64 1460.92,537.28 1461.58,535.92 1462.25,535.33 1462.92,535.11 1463.59,534.89 1464.26,535.27 1464.93,536.61 1465.6,537.96 1466.28,539.03 1466.96,538.04 1467.64,537.04 1468.33,536.03 1469.02,542.35 1469.71,549.57 1470.4,556.81 1471.1,555.28 1471.8,550.21 1472.51,545.11 1473.21,546.56 1473.93,552.72 1474.64,558.9 1475.36,556.43 1476.08,545.17 1476.8,533.85 1477.53,530.67 1478.26,537.34 1478.99,544.03 1479.73,548.64 1480.47,550.66 1481.21,552.68 1481.95,552.57 1482.7,550.08 1483.45,547.57 1484.2,548.91 1484.95,553.68 1485.71,558.46 1486.47,559.52 1487.23,558.25 1487.99,556.98 1488.76,554.59 1489.52,551.77 1490.29,548.94 1491.06,550.74 1491.83,553.3 1492.61,555.9 1493.39,561.33 1494.16,566.77 1494.94,570.16 1495.72,564.43 1496.51,558.69 1497.29,555.19 1498.08,555.51 1498.86,555.82 1499.65,554.59 1500.44,552.21 1501.23,549.83 1502.02,550.97 1502.82,553.07 1503.61,555.07 1504.41,550.31 1505.2,545.54 1506,542.92 1506.8,546.79 1507.59,550.66 1508.39,556.4 1509.19,564.09 1509.99,571.79 1510.79,571.5 1511.59,568.37 1512.39,565.24 1513.19,563.84 1513.99,562.46 1514.8,561.83 1515.6,563.52 1516.4,565.21 1517.2,567.44 1518,570.22 1518.81,572.99 1519.61,570.35 1520.41,565.97 1521.21,561.7 1522.01,566.64 1522.81,571.58 1523.61,574.39 1524.41,571.25 1525.21,568.11 1526.01,565.02 1526.81,561.98 1527.61,558.93 1528.41,562.32 1529.21,567.74 1530,573.08 1530.8,560.33 1531.6,547.58 1532.4,539.22 1533.19,544.21 1533.99,549.19 1534.79,553.18 1535.59,556.13 1536.38,559.07 1537.18,556.97 1537.98,552.98 1538.77,548.99 1539.57,551.42 1540.36,554.08 1541.16,555.88 1541.96,554.29 1542.75,552.69 1543.55,551.79 1544.34,551.8 1545.14,551.8 1545.93,557.95 1546.73,567.12 1547.52,576.29 1548.32,572.99 1549.11,568.35 1549.91,564.01 1550.7,561.74 1551.49,559.46 1552.29,559.74 1553.08,564.49 1553.88,569.25 1554.67,568.07 1555.46,562.8 1556.26,557.54 1557.05,559.82 1557.85,563.73 1558.64,567.36 1559.43,565.59 1560.23,563.82 1561.02,563.77 1561.81,568.2 1562.61,572.64 1563.4,569.62 1564.19,559.25 1564.99,548.88 1565.78,551.6 1566.57,559.16 1567.37,566.71 1568.16,564.99 1568.95,562.86 1569.75,560.33 1570.54,556.01 1571.33,551.7 1572.13,552.32 1572.92,560.01 1573.71,567.7 1574.51,566.31 1575.3,559.75 1576.09,553.19 1576.89,559.74 1577.68,568.36 1578.47,575.85 1579.27,572.14 1580.06,568.44 1580.85,566.14 1581.65,566.86 1582.44,567.57 1583.24,566.78 1584.03,564.77 1584.82,562.75 1585.62,564.57 1586.41,567.49 1587.21,570.31 1588,560.9 1588.8,551.5 1589.59,545.94 1590.38,552.7 1591.18,559.45 1591.97,561.94 1592.77,559.63 1593.56,557.31 1594.36,558.89 1595.15,562.11 1595.95,565.34 1596.74,564.58 1597.54,563.54 1598.33,563.08 1599.13,565.46 1599.92,567.84 1600.72,567.29 1601.52,562.39 1602.31,557.48 1603.11,561.63 1603.9,570.92 1604.7,580.22 1605.49,581.96 1606.29,582.61 1607.09,582.36 1607.88,574.86 1608.68,567.35 1609.48,562.71 1610.27,563.46 1611.07,564.21 1611.87,565.18 1612.66,566.31 1613.46,567.43 1614.26,570.46 1615.05,573.9 1615.85,577.27 1616.65,579.52 1617.44,581.77 1618.24,580.13 1619.04,569.52 1619.84,558.9 1620.63,555.2 1621.43,557.3 1622.23,559.4 1623.03,558.69 1623.83,557.21 1624.62,555.76 1625.42,555.64 1626.22,555.52 1627.02,554.95 1627.82,553.18 1628.61,551.41 1629.41,554.14 1630.21,561.09 1631.01,568.03 1631.81,565.7 1632.61,560.48 1633.41,555.38 1634.21,564.6 1635.01,573.81 1635.8,580.13 1636.6,578.1 1637.4,576.05 1638.2,571.67 1639,564.98 1639.8,558.29 1640.6,556.64 1641.4,556.63 1642.2,556.62 1643,558.05" fill="none" stroke="#00ff00" stroke-width="4.8" stroke-linejoin="round"/>
<path d="M987.5,480.73 988.29,481.03 989.09,481.33 989.88,481.62 990.68,481.57 991.47,481.46 992.27,481.34 993.06,481.35 993.86,481.41 994.65,481.47 995.45,481.65 996.25,481.93 997.05,482.2 997.84,482.37 998.64,482.39 999.44,482.4 1000.24,482.42 1001.04,482.45 1001.83,482.47 1002.63,482.5 1003.43,482.53 1004.23,482.56 1005.03,482.59 1005.83,482.54 1006.63,482.48 1007.43,482.43 1008.23,482.52 1009.03,482.63 1009.83,482.73 1010.63,482.76 1011.43,482.78 1012.23,482.79 1013.03,482.69 1013.83,482.54 1014.63,482.39 1015.43,482.32 1016.23,482.33 1017.03,482.35 1017.83,482.39 1018.63,482.47 1019.43,482.55 1020.23,482.61 1021.02,482.61 1021.82,482.61 1022.62,482.59 1023.42,482.46 1024.21,482.34 1025.01,482.24 1025.8,482.59 1026.59,482.97 1027.38,483.36 1028.17,483.45 1028.95,483.51 1029.73,483.59 1030.51,483.92 1031.29,484.4 1032.06,484.9 1032.82,485.28 1033.58,485.47 1034.33,485.63 1035.05,485.71 1035.75,485.62 1036.42,485.39 1037.06,485.01 1037.67,484.6 1038.26,484.31 1038.84,483.93 1039.41,483.5 1039.97,483.03 1040.54,482.25 1041.11,481.46 1041.69,480.69 1042.28,479.93 1042.87,479.32 1043.47,478.81 1044.07,478.31 1044.68,477.82 1045.29,477.28 1045.91,476.66 1046.53,476.06 1047.16,475.47 1047.78,474.98 1048.41,474.61 1049.03,474.24 1049.65,473.87 1050.27,473.36 1050.87,472.67 1051.47,471.98 1052.06,471.27 1052.63,470.62 1053.2,470.17 1053.75,469.71 1054.29,469.23 1054.82,468.73 1055.34,468.13 1055.85,467.48 1056.35,466.82 1056.85,466.14 1057.34,465.46 1057.83,464.88 1058.31,464.34 1058.78,463.8 1059.26,463.25 1059.73,462.69 1060.2,462.05 1060.66,461.29 1061.13,460.54 1061.6,459.78 1062.07,459.03 1062.54,458.28 1063.01,457.63 1063.49,456.98 1063.97,456.33 1064.46,455.7 1064.96,455.07 1065.46,454.3 1065.96,453.53 1066.48,452.76 1067,452.01 1067.54,451.29 1068.08,450.83 1068.64,450.39 1069.21,449.98 1069.79,449.58 1070.38,449.06 1070.99,448.46 1071.62,447.89 1072.26,447.33 1072.91,447.03 1073.59,446.91 1074.28,446.81 1074.99,446.76 1075.72,446.39 1076.47,446.04 1077.24,445.72 1078.02,445.52 1078.81,445.4 1079.6,445.32 1080.39,445.22 1081.18,445.09 1081.95,445.03 1082.7,445.06 1083.44,445.26 1084.14,445.53 1084.82,445.88 1085.46,446.27 1086.06,446.71 1086.64,447.21 1087.2,447.76 1087.74,448.38 1088.27,449.06 1088.8,449.75 1089.33,450.43 1089.87,451.11 1090.4,451.74 1090.94,452.36 1091.47,452.97 1092.01,453.57 1092.55,454.17 1093.09,454.82 1093.64,455.46 1094.18,456.09 1094.72,456.72 1095.27,457.36 1095.82,458 1096.36,458.64 1096.91,459.28 1097.46,459.92 1098.01,460.51 1098.56,461.1 1099.11,461.69 1099.66,462.27 1100.21,462.87 1100.76,463.47 1101.31,464.07 1101.86,464.67 1102.41,465.27 1102.96,465.74 1103.52,466.19 1104.07,466.64 1104.62,467.09 1105.17,467.61 1105.72,468.27 1106.27,468.93 1106.82,469.59 1107.37,470.26 1107.92,470.79 1108.46,471.28 1109.01,471.77 1109.56,472.26 1110.1,472.79 1110.65,473.47 1111.19,474.16 1111.73,474.85 1112.27,475.54 1112.81,476.16 1113.35,476.72 1113.89,477.29 1114.43,477.86 1114.96,478.43 1115.49,478.96 1116.03,479.49 1116.56,480.02 1117.09,480.55 1117.62,481.11 1118.15,481.72 1118.68,482.33 1119.21,482.94 1119.75,483.55 1120.28,484.17 1120.82,484.79 1121.36,485.41 1121.91,486.02 1122.46,486.63 1123.01,487.22 1123.56,487.8 1124.12,488.38 1124.69,488.95 1125.26,489.51 1125.83,490.05 1126.42,490.58 1127.01,491.1 1127.6,491.62 1128.2,492.2 1128.82,492.77 1129.43,493.34 1130.06,493.88 1130.7,494.32 1131.34,494.74 1132,495.16 1132.66,495.59 1133.33,496.1 1134.01,496.6 1134.69,497.08 1135.39,497.52 1136.09,497.92 1136.8,498.3 1137.52,498.66 1138.24,498.92 1138.97,499.17 1139.7,499.4 1140.44,499.62 1141.19,499.85 1141.94,500.05 1142.7,500.25 1143.46,500.47 1144.23,500.67 1145,500.85 1145.78,501.08 1146.56,501.29 1147.34,501.48 1148.13,501.4 1148.92,501.24 1149.71,501.05 1150.51,501.08 1151.31,501.21 1152.11,501.32 1152.92,501.36 1153.72,501.33 1154.52,501.28 1155.33,501.22 1156.13,501.17 1156.94,501.11 1157.74,501.01 1158.54,500.87 1159.33,500.71 1160.13,500.5 1160.92,500.06 1161.7,499.61 1162.48,499.14 1163.26,498.85 1164.03,498.54 1164.79,498.22 1165.54,497.92 1166.29,497.62 1167.03,497.3 1167.76,496.94 1168.49,496.5 1169.2,496.04 1169.9,495.57 1170.59,495.37 1171.27,495.2 1171.94,495 1172.6,494.71 1173.24,493.97 1173.87,493.22 1174.49,492.46 1175.09,491.76 1175.68,491.39 1176.25,491 1176.8,490.6 1177.34,490.17 1177.86,489.6 1178.37,488.95 1178.85,488.3 1179.32,487.63 1179.77,486.95 1180.2,486.26 1180.61,485.55 1181.01,484.83 1181.39,484.11 1181.75,483.37 1182.11,482.63 1182.45,481.89 1182.79,481.23 1183.11,480.59 1183.43,479.93 1183.74,479.27 1184.04,478.61 1184.34,477.94 1184.63,477.27 1184.93,476.59 1185.22,475.78 1185.51,474.92 1185.8,474.07 1186.1,473.21 1186.4,472.35 1186.7,471.5 1187.01,470.64 1187.32,469.79 1187.65,469.01 1187.98,468.32 1188.32,467.65 1188.66,466.97 1189.01,466.3 1189.37,465.64 1189.73,464.97 1190.1,464.31 1190.47,463.65 1190.84,462.98 1191.21,462.32 1191.59,461.66 1191.96,461 1192.34,460.34 1192.71,459.64 1193.08,458.91 1193.45,458.17 1193.81,457.44 1194.17,456.7 1194.53,455.96 1194.88,455.22 1195.23,454.46 1195.58,453.69 1195.92,452.91 1196.26,452.14 1196.6,451.36 1196.94,450.59 1197.27,449.81 1197.59,449.06 1197.92,448.37 1198.24,447.68 1198.56,446.99 1198.87,446.3 1199.19,445.61 1199.5,444.92 1199.8,444.22 1200.11,443.54 1200.41,442.89 1200.71,442.24 1201,441.59 1201.29,440.94 1201.58,440.28 1201.87,439.62 1202.16,438.96 1202.44,438.3 1202.72,437.55 1202.99,436.76 1203.27,435.98 1203.54,435.19 1203.81,434.41 1204.08,433.62 1204.34,432.84 1204.6,432.05 1204.86,431.26 1205.12,430.47 1205.38,429.66 1205.63,428.86 1205.88,428.06 1206.13,427.25 1206.38,426.45 1206.62,425.64 1206.86,424.84 1207.11,424.03 1207.34,423.23 1207.58,422.44 1207.82,421.71 1208.05,420.98 1208.28,420.24 1208.51,419.51 1208.74,418.77 1208.96,418.03 1209.19,417.3 1209.41,416.56 1209.63,415.82 1209.85,415.08 1210.07,414.32 1210.28,413.53 1210.5,412.73 1210.71,411.94 1210.92,411.14 1211.13,410.34 1211.34,409.55 1211.55,408.75 1211.75,407.96 1211.96,407.16 1212.16,406.36 1212.36,405.56 1212.56,404.79 1212.76,404.06 1212.96,403.33 1213.16,402.6 1213.36,401.87 1213.55,401.14 1213.75,400.41 1213.94,399.68 1214.13,398.94 1214.32,398.21 1214.52,397.48 1214.71,396.74 1214.89,396.01 1215.08,395.25 1215.27,394.45 1215.46,393.64 1215.64,392.84 1215.83,392.04 1216.01,391.24 1216.19,390.44 1216.37,389.63 1216.56,388.83 1216.74,388.03 1216.92,387.23 1217.09,386.42 1217.27,385.62 1217.45,384.82 1217.62,384.02 1217.8,383.22 1217.97,382.43 1218.15,381.63 1218.32,380.83 1218.49,380.04 1218.66,379.24 1218.84,378.44 1219.01,377.64 1219.17,376.85 1219.34,376.05 1219.51,375.25 1219.68,374.45 1219.84,373.65 1220.01,372.86 1220.17,372.1 1220.34,371.33 1220.5,370.57 1220.66,369.81 1220.83,369.05 1220.99,368.28 1221.15,367.52 1221.31,366.76 1221.47,366 1221.62,365.23 1221.78,364.47 1221.94,363.7 1222.1,362.94 1222.25,362.17 1222.41,361.41 1222.56,360.64 1222.72,359.85 1222.87,359.06 1223.02,358.27 1223.18,357.48 1223.33,356.69 1223.48,355.9 1223.63,355.11 1223.78,354.32 1223.93,353.53 1224.08,352.74 1224.23,351.95 1224.37,351.16 1224.52,350.36 1224.67,349.57 1224.81,348.78 1224.96,347.99 1225.1,347.2 1225.25,346.4 1225.39,345.61 1225.54,344.81 1225.68,344.02 1225.82,343.22 1225.97,342.43 1226.11,341.64 1226.25,340.84 1226.39,340.04 1226.53,339.25 1226.67,338.45 1226.81,337.66 1226.95,336.86 1227.09,336.07 1227.23,335.27 1227.36,334.48 1227.5,333.68 1227.64,332.88 1227.78,332.07 1227.91,331.26 1228.05,330.46 1228.18,329.65 1228.32,328.85 1228.45,328.04 1228.59,327.24 1228.72,326.43 1228.86,325.62 1228.99,324.82 1229.12,324.01 1229.26,323.21 1229.39,322.4 1229.52,321.59 1229.65,320.79 1229.79,319.98 1229.92,319.17 1230.05,318.38 1230.18,317.61 1230.31,316.84 1230.44,316.07 1230.57,315.29 1230.7,314.52 1230.83,313.75 1230.96,312.98 1231.09,312.21 1231.22,311.43 1231.35,310.66 1231.48,309.89 1231.61,309.12 1231.73,308.34 1231.86,307.57 1231.99,306.8 1232.12,306.03 1232.25,305.25 1232.37,304.48 1232.5,303.71 1232.63,302.91 1232.75,302.1 1232.88,301.3 1233.01,300.5 1233.13,299.7 1233.26,298.9 1233.39,298.1 1233.51,297.29 1233.64,296.49 1233.77,295.69 1233.89,294.89 1234.02,294.09 1234.14,293.29 1234.27,292.48 1234.4,291.68 1234.52,290.88 1234.65,290.08 1234.77,289.28 1234.9,288.48 1235.02,287.68 1235.15,286.91 1235.28,286.13 1235.4,285.36 1235.53,284.58 1235.65,283.81 1235.78,283.04 1235.9,282.26 1236.03,281.49 1236.16,280.71 1236.28,279.94 1236.41,279.16 1236.53,278.39 1236.66,277.62 1236.79,276.84 1236.91,276.07 1237.04,275.29 1237.16,274.52 1237.29,273.75 1237.42,272.97 1237.54,272.19 1237.67,271.38 1237.8,270.57 1237.92,269.77 1238.05,268.96 1238.18,268.15 1238.31,267.34 1238.43,266.54 1238.56,265.73 1238.69,264.92 1238.82,264.11 1238.95,263.31 1239.07,262.5 1239.2,261.69 1239.33,260.88 1239.46,260.08 1239.59,259.27 1239.72,258.46 1239.85,257.66 1239.98,256.85 1240.11,256.07 1240.24,255.31 1240.37,254.54 1240.5,253.77 1240.63,253.01 1240.76,252.24 1240.9,251.47 1241.03,250.71 1241.16,249.94 1241.29,249.17 1241.43,248.41 1241.56,247.64 1241.69,246.88 1241.83,246.11 1241.96,245.34 1242.1,244.58 1242.23,243.81 1242.37,243.05 1242.5,242.28 1242.64,241.5 1242.77,240.73 1242.91,239.95 1243.05,239.17 1243.18,238.39 1243.32,237.61 1243.46,236.84 1243.6,236.06 1243.74,235.28 1243.88,234.5 1244.02,233.73 1244.16,232.95 1244.3,232.17 1244.44,231.4 1244.58,230.62 1244.72,229.84 1244.86,229.07 1245,228.29 1245.14,227.48 1245.28,226.66 1245.43,225.85 1245.57,225.04 1245.71,224.22 1245.85,223.41 1246,222.6 1246.14,221.79 1246.28,220.97 1246.42,220.16 1246.57,219.35 1246.71,218.53 1246.86,217.72 1247,216.91 1247.14,216.1 1247.29,215.28 1247.43,214.47 1247.57,213.68 1247.72,212.9 1247.86,212.12 1248.01,211.34 1248.15,210.56 1248.29,209.78 1248.44,209 1248.58,208.22 1248.73,207.44 1248.87,206.66 1249.01,205.88 1249.16,205.1 1249.3,204.32 1249.45,203.54 1249.59,202.76 1249.73,201.99 1249.88,201.21 1250.02,200.43 1250.16,199.66 1250.31,198.89 1250.45,198.12 1250.59,197.35 1250.73,196.58 1250.88,195.81 1251.02,195.04 1251.16,194.27 1251.3,193.5 1251.44,192.74 1251.58,191.97 1251.73,191.2 1251.87,190.43 1252.01,189.66 1252.15,188.89 1252.29,188.12 1252.43,187.35 1252.57,186.58 1252.71,185.8 1252.84,185.03 1252.98,184.26 1253.12,183.48 1253.26,182.71 1253.4,181.93 1253.53,181.16 1253.67,180.38 1253.81,179.61 1253.95,178.84 1254.09,178.06 1254.23,177.29 1254.38,176.52 1254.52,175.75 1254.67,174.97 1254.83,174.2 1254.98,173.43 1255.15,172.61 1255.31,171.77 1255.48,170.94 1255.66,170.1 1255.84,169.27 1256.02,168.43 1256.22,167.59 1256.42,166.75 1256.62,165.9 1256.84,165.06 1257.06,164.22 1257.29,163.37 1257.52,162.54 1257.77,161.84 1258.02,161.15 1258.29,160.46 1258.56,159.78 1258.85,159.1 1259.14,158.44 1259.45,157.77 1259.76,157.12 1260.09,156.43 1260.43,155.64 1260.78,154.85 1261.14,154.07 1261.52,153.29 1261.91,152.51 1262.31,151.74 1262.72,151.03 1263.15,150.39 1263.6,149.76 1264.05,149.14 1264.53,148.53 1265.01,147.93 1265.52,147.27 1266.04,146.61 1266.58,145.99 1267.14,145.42 1267.72,144.91 1268.33,144.48 1268.97,144.17 1269.65,143.99 1270.36,143.92 1271.09,143.95 1271.83,144.12 1272.57,144.42 1273.29,145.16 1273.96,145.95 1274.58,146.77 1275.14,147.47 1275.63,147.85 1276.07,148.29 1276.45,148.78 1276.79,149.32 1277.1,149.89 1277.38,150.5 1277.63,151.24 1277.87,152.08 1278.1,152.93 1278.33,153.77 1278.57,154.62 1278.81,155.46 1279.06,156.3 1279.32,157.14 1279.58,157.98 1279.85,158.81 1280.12,159.63 1280.4,160.42 1280.68,161.21 1280.97,161.99 1281.25,162.78 1281.54,163.56 1281.82,164.35 1282.11,165.13 1282.39,165.91 1282.67,166.69 1282.95,167.46 1283.22,168.24 1283.5,169.01 1283.76,169.79 1284.03,170.56 1284.29,171.34 1284.55,172.11 1284.81,172.89 1285.06,173.65 1285.31,174.33 1285.55,175.01 1285.8,175.7 1286.04,176.39 1286.27,177.08 1286.51,177.77 1286.74,178.47 1286.96,179.16 1287.19,179.86 1287.41,180.56 1287.63,181.3 1287.85,182.09 1288.06,182.87 1288.27,183.65 1288.48,184.44 1288.69,185.22 1288.89,186.01 1289.09,186.79 1289.29,187.58 1289.48,188.36 1289.68,189.15 1289.87,189.94 1290.05,190.74 1290.24,191.56 1290.42,192.38 1290.6,193.21 1290.78,194.03 1290.96,194.86 1291.13,195.68 1291.3,196.5 1291.47,197.33 1291.64,198.15 1291.81,198.98 1291.97,199.8 1292.13,200.62 1292.29,201.45 1292.45,202.27 1292.6,203.04 1292.75,203.78 1292.9,204.52 1293.05,205.26 1293.2,206 1293.35,206.74 1293.49,207.49 1293.63,208.23 1293.77,208.98 1293.91,209.73 1294.05,210.47 1294.18,211.22 1294.31,211.97 1294.45,212.72 1294.58,213.47 1294.71,214.22 1294.83,214.98 1294.96,215.73 1295.08,216.52 1295.21,217.33 1295.33,218.13 1295.45,218.94 1295.57,219.75 1295.68,220.56 1295.8,221.36 1295.92,222.17 1296.03,222.98 1296.14,223.79 1296.25,224.6 1296.37,225.4 1296.48,226.21 1296.58,227.02 1296.69,227.83 1296.8,228.64 1296.9,229.45 1297.01,230.26 1297.11,231.07 1297.22,231.88 1297.32,232.69 1297.42,233.5 1297.52,234.3 1297.62,235.09 1297.72,235.88 1297.82,236.67 1297.92,237.45 1298.02,238.24 1298.11,239.03 1298.21,239.82 1298.31,240.61 1298.4,241.4 1298.5,242.19 1298.59,242.98 1298.69,243.77 1298.78,244.56 1298.87,245.35 1298.97,246.14 1299.06,246.93 1299.15,247.72 1299.25,248.51 1299.34,249.3 1299.43,250.09 1299.52,250.88 1299.62,251.67 1299.71,252.46 1299.8,253.26 1299.89,254.05 1299.99,254.84 1300.08,255.65 1300.17,256.46 1300.26,257.28 1300.36,258.1 1300.45,258.91 1300.54,259.73 1300.64,260.55 1300.73,261.36 1300.83,262.18 1300.92,262.99 1301.02,263.81 1301.11,264.62 1301.21,265.44 1301.3,266.26 1301.4,267.07 1301.5,267.89 1301.6,268.7 1301.7,269.52 1301.8,270.33 1301.9,271.15 1302,271.96 1302.1,272.78 1302.2,273.59 1302.3,274.41 1302.4,275.22 1302.51,276.04 1302.61,276.82 1302.72,277.61 1302.82,278.39 1302.93,279.18 1303.03,279.96 1303.14,280.75 1303.25,281.53 1303.35,282.32 1303.46,283.1 1303.57,283.89 1303.68,284.67 1303.79,285.45 1303.9,286.24 1304.01,287.02 1304.12,287.8 1304.23,288.58 1304.34,289.37 1304.46,290.15 1304.57,290.93 1304.68,291.71 1304.8,292.5 1304.91,293.28 1305.03,294.05 1305.14,294.81 1305.26,295.56 1305.37,296.31 1305.49,297.07 1305.61,297.82 1305.73,298.57 1305.85,299.32 1305.97,300.08 1306.08,300.83 1306.2,301.58 1306.33,302.33 1306.45,303.08 1306.57,303.83 1306.69,304.58 1306.81,305.33 1306.93,306.08 1307.06,306.83 1307.18,307.58 1307.31,308.33 1307.43,309.08 1307.56,309.86 1307.68,310.69 1307.81,311.53 1307.93,312.36 1308.06,313.19 1308.19,314.02 1308.32,314.86 1308.44,315.69 1308.57,316.52 1308.7,317.35 1308.83,318.19 1308.96,319.02 1309.09,319.85 1309.22,320.69 1309.36,321.52 1309.49,322.35 1309.62,323.19 1309.75,324.02 1309.89,324.85 1310.02,325.67 1310.15,326.41 1310.29,327.14 1310.42,327.88 1310.56,328.61 1310.69,329.35 1310.83,330.08 1310.97,330.81 1311.1,331.55 1311.24,332.28 1311.38,333.02 1311.52,333.75 1311.66,334.48 1311.8,335.21 1311.93,335.95 1312.07,336.68 1312.21,337.41 1312.36,338.14 1312.5,338.87 1312.64,339.66 1312.78,340.45 1312.92,341.24 1313.06,342.02 1313.21,342.81 1313.35,343.6 1313.5,344.39 1313.64,345.17 1313.78,345.96 1313.93,346.75 1314.07,347.54 1314.22,348.32 1314.37,349.11 1314.51,349.9 1314.66,350.68 1314.81,351.47 1314.95,352.26 1315.1,353.07 1315.25,353.89 1315.4,354.7 1315.55,355.52 1315.7,356.34 1315.85,357.16 1316,357.98 1316.15,358.8 1316.3,359.61 1316.45,360.43 1316.6,361.25 1316.75,362.07 1316.91,362.89 1317.06,363.71 1317.21,364.52 1317.37,365.34 1317.52,366.15 1317.67,366.89 1317.83,367.63 1317.98,368.37 1318.14,369.11 1318.29,369.85 1318.45,370.59 1318.6,371.33 1318.76,372.07 1318.92,372.81 1319.07,373.55 1319.23,374.29 1319.39,375.03 1319.55,375.77 1319.71,376.51 1319.86,377.25 1320.02,378 1320.18,378.79 1320.34,379.59 1320.5,380.39 1320.66,381.18 1320.82,381.98 1320.98,382.78 1321.14,383.57 1321.31,384.37 1321.47,385.17 1321.63,385.96 1321.79,386.76 1321.95,387.56 1322.12,388.35 1322.28,389.15 1322.44,389.95 1322.61,390.76 1322.77,391.59 1322.94,392.41 1323.1,393.23 1323.27,394.06 1323.43,394.88 1323.6,395.71 1323.76,396.53 1323.93,397.36 1324.09,398.18 1324.26,399.01 1324.43,399.83 1324.59,400.65 1324.76,401.48 1324.93,402.3 1325.1,403.09 1325.27,403.85 1325.43,404.61 1325.6,405.37 1325.77,406.13 1325.94,406.89 1326.11,407.64 1326.28,408.4 1326.45,409.16 1326.62,409.92 1326.79,410.68 1326.96,411.44 1327.13,412.2 1327.31,412.95 1327.48,413.71 1327.65,414.51 1327.82,415.32 1328,416.12 1328.17,416.93 1328.34,417.73 1328.52,418.54 1328.69,419.35 1328.87,420.15 1329.04,420.96 1329.22,421.76 1329.4,422.57 1329.57,423.37 1329.75,424.18 1329.93,424.98 1330.11,425.76 1330.29,426.53 1330.47,427.3 1330.65,428.07 1330.83,428.83 1331.01,429.6 1331.19,430.37 1331.37,431.13 1331.56,431.9 1331.74,432.67 1331.93,433.43 1332.11,434.2 1332.3,434.96 1332.48,435.73 1332.67,436.49 1332.86,437.24 1333.04,438 1333.23,438.76 1333.42,439.51 1333.61,440.27 1333.8,441.03 1333.99,441.78 1334.19,442.54 1334.38,443.29 1334.57,444.05 1334.77,444.8 1334.96,445.55 1335.16,446.35 1335.36,447.16 1335.55,447.96 1335.75,448.77 1335.95,449.58 1336.15,450.38 1336.35,451.19 1336.55,451.99 1336.76,452.8 1336.96,453.6 1337.16,454.41 1337.37,455.21 1337.57,455.98 1337.78,456.7 1337.99,457.42 1338.2,458.13 1338.41,458.85 1338.62,459.56 1338.83,460.27 1339.04,460.99 1339.25,461.7 1339.47,462.41 1339.68,463.12 1339.9,463.83 1340.12,464.04 1340.34,464.88 1340.55,465.71 1340.77,466.54 1341,467.37 1341.22,468.2 1341.44,469.04 1341.67,469.87 1341.89,470.7 1342.12,471.53 1342.35,472.36 1342.57,473.21 1342.8,474.1 1343.04,475 1343.27,475.89 1343.5,476.78 1343.74,477.68 1343.97,478.57 1344.21,479.47 1344.45,480.36 1344.69,481.26 1344.93,482.15 1345.17,482.88 1345.41,483.54 1345.66,484.2 1345.91,484.86 1346.16,485.51 1346.41,486.17 1346.66,486.82 1346.92,487.47 1347.18,488.12 1347.44,488.77 1347.7,489.6 1347.97,490.49 1348.23,491.37 1348.5,492.26 1348.78,493.15 1349.05,494.04 1349.33,494.93 1349.61,495.82 1349.9,496.71 1350.18,497.41 1350.47,497.99 1350.77,498.57 1351.07,499.15 1351.37,499.73 1351.67,500.3 1351.98,500.87 1352.29,501.44 1352.6,502.09 1352.92,502.89 1353.24,503.7 1353.57,504.5 1353.9,505.31 1354.23,506.12 1354.57,506.92 1354.92,507.73 1355.26,508.49 1355.61,509.24 1355.97,509.99 1356.33,510.73 1356.7,511.47 1357.06,512.21 1357.44,512.95 1357.82,513.66 1358.2,514.36 1358.59,515.06 1358.98,515.75 1359.38,516.45 1359.79,517.13 1360.2,517.76 1360.61,518.31 1361.03,518.86 1361.46,519.41 1361.89,519.95 1362.33,520.48 1362.77,521.15 1363.22,521.91 1363.67,522.67 1364.13,523.42 1364.6,524.17 1365.07,524.92 1365.55,525.67 1366.03,526.42 1366.52,527.16 1367.02,527.9 1367.52,528.63 1368.03,529.33 1368.55,530.02 1369.07,530.71 1369.6,531.39 1370.14,531.95 1370.68,532.18 1371.23,532.41 1371.79,532.62 1372.35,532.83 1372.92,533.2 1373.5,533.64 1374.08,534.07 1374.66,534.49 1375.26,535.03 1375.85,535.73 1376.46,536.43 1377.07,537.13 1377.68,537.69 1378.3,537.92 1378.93,538.15 1379.56,538.38 1380.19,538.75 1380.83,539.5 1381.48,540.24 1382.13,540.98 1382.78,541.66 1383.44,542.25 1384.1,542.84 1384.77,543.42 1385.44,544 1386.12,544.58 1386.8,545.15 1387.48,545.72 1388.17,545.86 1388.86,545.98 1389.56,546.1 1390.26,546.18 1390.96,546.22 1391.67,546.24 1392.38,546.26 1393.09,546.76 1393.8,547.36 1394.52,547.95 1395.24,548.52 1395.97,549.03 1396.7,549.55 1397.43,550.05 1398.16,550.41 1398.89,550.75 1399.63,551.09 1400.37,551.36 1401.11,551.57 1401.85,551.77 1402.6,552.02 1403.35,552.63 1404.1,553.24 1404.85,553.85 1405.6,553.88 1406.35,553.76 1407.11,553.63 1407.86,553.74 1408.62,554.1 1409.38,554.46 1410.14,554.75 1410.9,554.78 1411.66,554.81 1412.42,554.84 1413.19,555.37 1413.95,555.95 1414.72,556.53 1415.48,556.85 1416.25,557.01 1417.01,557.17 1417.78,557.23 1418.55,557.14 1419.32,557.04 1420.09,557.02 1420.86,557.66 1421.63,558.3 1422.4,558.94 1423.17,559.29 1423.94,559.59 1424.71,559.89 1425.49,560.17 1426.26,560.42 1427.04,560.67 1427.81,560.84 1428.59,560.89 1429.37,560.93 1430.14,560.88 1430.92,560.42 1431.7,559.97 1432.48,559.5 1433.26,559.87 1434.04,560.25 1434.82,560.62 1435.6,560.96 1436.38,561.28 1437.17,561.6 1437.95,561.94 1438.73,562.31 1439.52,562.67 1440.3,562.93 1441.09,563.03 1441.87,563.12 1442.66,563.22 1443.44,563.33 1444.23,563.45 1445.02,563.55 1445.81,563.45 1446.59,563.35 1447.38,563.24 1448.17,563.37 1448.96,563.53 1449.75,563.7 1450.54,563.71 1451.33,563.66 1452.12,563.6 1452.91,563.74 1453.7,564.05 1454.5,564.36 1455.29,564.52 1456.08,564.42 1456.87,564.31 1457.67,564.38 1458.46,565.1 1459.25,565.82 1460.05,566.45 1460.84,565.78 1461.64,565.11 1462.43,564.44 1463.23,564.97 1464.02,565.6 1464.82,566.23 1465.62,566.27 1466.41,566.14 1467.21,566.02 1468.01,566.04 1468.8,566.15 1469.6,566.25 1470.4,566.16 1471.2,565.86 1471.99,565.57 1472.79,565.35 1473.59,565.29 1474.39,565.22 1475.19,565.28 1475.99,565.75 1476.79,566.21 1477.59,566.61 1478.38,566.54 1479.18,566.47 1479.98,566.4 1480.78,566.27 1481.58,566.14 1482.38,566.01 1483.18,566.42 1483.98,566.93 1484.78,567.44 1485.58,567.78 1486.38,568.07 1487.18,568.35 1487.98,568.47 1488.78,568.49 1489.59,568.51 1490.39,568.43 1491.19,568.25 1491.99,568.07 1492.79,567.98 1493.59,568.06 1494.39,568.13 1495.19,568.09 1495.99,567.64 1496.79,567.2 1497.59,566.87 1498.39,567.44 1499.19,568.01 1499.99,568.57 1500.79,568.39 1501.59,568.2 1502.39,568.01 1503.19,568.39 1503.99,568.86 1504.79,569.33 1505.59,568.94 1506.39,568.25 1507.19,567.56 1507.99,567.64 1508.79,568.21 1509.59,568.78 1510.39,568.94 1511.19,568.68 1511.99,568.41 1512.79,568.39 1513.58,568.81 1514.38,569.23 1515.18,569.48 1515.98,569.15 1516.78,568.81 1517.58,568.55 1518.38,568.98 1519.18,569.41 1519.97,569.84 1520.77,569.91 1521.57,569.96 1522.37,570.02 1523.17,569.9 1523.97,569.76 1524.77,569.61 1525.56,569.52 1526.36,569.44 1527.16,569.36 1527.96,569.3 1528.76,569.26 1529.55,569.22 1530.35,569.25 1531.15,569.36 1531.95,569.46 1532.75,569.51 1533.54,569.42 1534.34,569.34 1535.14,569.33 1535.94,569.68 1536.74,570.04 1537.53,570.38 1538.33,570.34 1539.13,570.3 1539.93,570.26 1540.73,570.36 1541.52,570.47 1542.32,570.58 1543.12,570.19 1543.92,569.67 1544.71,569.14 1545.51,569.31 1546.31,569.87 1547.11,570.43 1547.9,570.68 1548.7,570.64 1549.5,570.59 1550.3,570.68 1551.09,571.02 1551.89,571.35 1552.69,571.45 1553.49,570.8 1554.28,570.15 1555.08,569.57 1555.88,569.64 1556.68,569.71 1557.47,569.78 1558.27,570.04 1559.07,570.3 1559.87,570.55 1560.66,570.69 1561.46,570.8 1562.26,570.92 1563.06,571.04 1563.85,571.18 1564.65,571.31 1565.45,571.47 1566.25,571.63 1567.04,571.8 1567.84,571.94 1568.64,572.05 1569.44,572.16 1570.23,572.21 1571.03,572.11 1571.83,572.01 1572.63,571.92 1573.42,571.84 1574.22,571.77 1575.02,571.69 1575.82,571.59 1576.61,571.49 1577.41,571.39 1578.21,571.53 1579.01,571.69 1579.81,571.86 1580.6,571.9 1581.4,571.9 1582.2,571.9 1583,571.68 1583.8,571.34 1584.59,570.99 1585.39,571.07 1586.19,571.59 1586.99,572.11 1587.79,572.49 1588.58,572.63 1589.38,572.76 1590.18,572.82 1590.98,572.6 1591.78,572.37 1592.58,572.17 1593.37,572.11 1594.17,572.05 1594.97,571.98 1595.77,572.2 1596.57,572.43 1597.37,572.66 1598.17,572.52 1598.97,572.3 1599.76,572.08 1600.56,572.31 1601.36,572.74 1602.16,573.16 1602.96,573.31 1603.76,573.25 1604.56,573.19 1605.36,573.08 1606.16,572.9 1606.96,572.73 1607.76,572.59 1608.56,572.52 1609.36,572.45 1610.16,572.38 1610.96,572.34 1611.76,572.29 1612.56,572.27 1613.36,572.58 1614.16,572.88 1614.96,573.19 1615.76,573.57 1616.56,573.96 1617.36,574.35 1618.16,573.81 1618.96,573.07 1619.76,572.32 1620.56,572.38 1621.36,572.77 1622.16,573.17 1622.96,573.42 1623.76,573.55 1624.57,573.69 1625.37,573.67 1626.17,573.45 1626.97,573.24 1627.77,573.14 1628.57,573.27 1629.37,573.4 1630.18,573.54 1630.98,573.72 1631.78,573.9 1632.58,574.04 1633.38,573.74 1634.19,573.44 1634.99,573.14 1635.79,573.13 1636.59,573.12 1637.4,573.11 1638.2,573.06 1639,572.99 1639.81,572.93 1640.61,573.21 1641.41,573.58 1642.22,573.96 1643.02,574.3" fill="none" stroke="#00ffff" stroke-width="4.8" stroke-linejoin="round"/>
<path d="M987.5,480.55 988.3,480.91 989.1,481.26 989.9,481.6 990.7,481.65 991.5,481.66 992.3,481.66 993.1,481.7 993.9,481.76 994.7,481.8 995.5,481.93 996.29,482.12 997.09,482.29 997.89,482.38 998.68,482.37 999.48,482.35 1000.27,482.31 1001.07,482.21 1001.86,482.1 1002.66,482.05 1003.45,482.21 1004.25,482.37 1005.04,482.52 1005.84,482.61 1006.63,482.69 1007.43,482.77 1008.23,482.71 1009.02,482.63 1009.82,482.55 1010.61,482.47 1011.41,482.4 1012.21,482.33 1013.01,482.31 1013.81,482.32 1014.6,482.32 1015.4,482.32 1016.2,482.3 1017,482.27 1017.81,482.29 1018.61,482.36 1019.41,482.44 1020.22,482.51 1021.02,482.56 1021.83,482.6 1022.63,482.59 1023.44,482.27 1024.24,481.95 1025.04,481.65 1025.85,481.72 1026.65,481.8 1027.45,481.87 1028.24,481.79 1029.04,481.7 1029.83,481.6 1030.62,481.52 1031.41,481.45 1032.19,481.37 1032.97,481.41 1033.74,481.51 1034.51,481.6 1035.27,481.54 1036.02,481.21 1036.77,480.84 1037.5,480.45 1038.23,480.17 1038.95,479.86 1039.66,479.52 1040.37,479.23 1041.06,478.98 1041.75,478.71 1042.43,478.42 1043.1,478.16 1043.76,477.89 1044.42,477.59 1045.07,477.24 1045.71,476.63 1046.34,476.01 1046.97,475.37 1047.58,474.74 1048.19,474.14 1048.79,473.54 1049.39,472.92 1049.98,472.31 1050.56,471.57 1051.13,470.82 1051.69,470.08 1052.25,469.34 1052.8,468.8 1053.35,468.42 1053.89,468.03 1054.42,467.65 1054.95,467.26 1055.47,466.57 1055.99,465.85 1056.51,465.13 1057.02,464.41 1057.53,463.69 1058.04,463.08 1058.54,462.47 1059.05,461.86 1059.55,461.25 1060.05,460.65 1060.55,460.15 1061.06,459.65 1061.56,459.15 1062.06,458.65 1062.57,458.14 1063.08,457.6 1063.59,457.05 1064.1,456.51 1064.62,455.97 1065.14,455.37 1065.67,454.66 1066.2,453.94 1066.74,453.22 1067.28,452.5 1067.83,451.81 1068.38,451.14 1068.94,450.47 1069.51,449.8 1070.09,449.14 1070.67,448.61 1071.27,448.08 1071.87,447.56 1072.48,447.05 1073.1,446.49 1073.73,445.95 1074.36,445.43 1075,444.94 1075.66,444.43 1076.32,443.95 1076.98,443.5 1077.66,443.12 1078.34,442.88 1079.03,442.67 1079.73,442.53 1080.44,442.38 1081.16,442.25 1081.88,442.19 1082.61,442.19 1083.35,442.25 1084.1,442.36 1084.84,442.54 1085.58,442.61 1086.31,442.69 1087.04,442.82 1087.75,443.1 1088.44,443.59 1089.11,444.12 1089.77,444.68 1090.4,445.2 1091.02,445.72 1091.62,446.25 1092.2,446.81 1092.78,447.44 1093.34,448.14 1093.89,448.85 1094.43,449.56 1094.96,450.28 1095.49,450.93 1096.01,451.57 1096.53,452.2 1097.04,452.83 1097.56,453.44 1098.07,454.02 1098.59,454.58 1099.1,455.14 1099.62,455.68 1100.14,456.27 1100.66,456.99 1101.18,457.71 1101.7,458.42 1102.22,459.13 1102.74,459.76 1103.26,460.31 1103.78,460.85 1104.3,461.4 1104.82,461.95 1105.34,462.54 1105.87,463.15 1106.39,463.78 1106.91,464.41 1107.44,465.04 1107.96,465.54 1108.49,466.02 1109.01,466.51 1109.54,467 1110.07,467.52 1110.6,468.17 1111.13,468.82 1111.66,469.47 1112.19,470.12 1112.73,470.73 1113.27,471.28 1113.81,471.83 1114.35,472.38 1114.9,472.93 1115.45,473.51 1116,474.09 1116.55,474.68 1117.11,475.25 1117.67,475.83 1118.23,476.42 1118.8,477.01 1119.37,477.59 1119.94,478.17 1120.52,478.81 1121.1,479.47 1121.69,480.11 1122.28,480.75 1122.88,481.32 1123.48,481.86 1124.08,482.38 1124.69,482.9 1125.31,483.44 1125.93,484.02 1126.55,484.59 1127.18,485.15 1127.82,485.59 1128.46,485.91 1129.11,486.21 1129.76,486.49 1130.42,486.94 1131.09,487.48 1131.76,488.01 1132.44,488.52 1133.13,488.8 1133.82,489.04 1134.52,489.26 1135.23,489.55 1135.94,490.01 1136.67,490.44 1137.4,490.87 1138.13,491.13 1138.88,491.35 1139.63,491.55 1140.39,491.74 1141.16,491.9 1141.94,492.05 1142.73,492.17 1143.52,492.29 1144.31,492.39 1145.11,492.47 1145.92,492.59 1146.72,492.7 1147.53,492.78 1148.35,492.61 1149.16,492.43 1149.97,492.23 1150.79,492.18 1151.6,492.11 1152.41,492.02 1153.22,491.99 1154.03,491.95 1154.83,491.88 1155.63,491.67 1156.42,491.41 1157.21,491.13 1157.99,490.87 1158.77,490.62 1159.53,490.35 1160.29,490.05 1161.04,489.7 1161.78,489.33 1162.51,488.95 1163.23,488.53 1163.93,488.1 1164.63,487.65 1165.31,487.22 1165.97,486.82 1166.62,486.4 1167.26,485.96 1167.88,485.5 1168.49,485.02 1169.08,484.52 1169.66,484.01 1170.22,483.46 1170.77,482.89 1171.3,482.3 1171.82,481.69 1172.33,481.08 1172.83,480.44 1173.32,479.79 1173.79,479.13 1174.25,478.46 1174.7,477.77 1175.14,477.14 1175.57,476.63 1175.99,476.11 1176.4,475.57 1176.8,475.02 1177.19,474.46 1177.57,473.85 1177.95,473.06 1178.31,472.27 1178.67,471.48 1179.02,470.68 1179.36,469.87 1179.7,469.07 1180.03,468.26 1180.35,467.46 1180.67,466.66 1180.98,465.85 1181.29,465.05 1181.59,464.24 1181.89,463.44 1182.18,462.63 1182.47,461.83 1182.76,461.08 1183.04,460.33 1183.32,459.59 1183.6,458.84 1183.87,458.1 1184.14,457.36 1184.41,456.62 1184.67,455.88 1184.94,455.14 1185.2,454.37 1185.46,453.58 1185.71,452.8 1185.97,452.02 1186.22,451.24 1186.48,450.46 1186.73,449.68 1186.98,448.89 1187.22,448.11 1187.47,447.33 1187.72,446.58 1187.96,445.83 1188.21,445.08 1188.45,444.33 1188.7,443.58 1188.94,442.83 1189.19,442.08 1189.43,441.32 1189.67,440.57 1189.91,439.82 1190.15,439.06 1190.39,438.31 1190.63,437.55 1190.87,436.8 1191.1,436.04 1191.34,435.28 1191.58,434.53 1191.81,433.77 1192.05,433.01 1192.28,432.25 1192.52,431.5 1192.75,430.82 1192.98,430.14 1193.21,429.46 1193.44,428.78 1193.67,428.1 1193.9,427.42 1194.13,426.74 1194.36,426.05 1194.59,425.37 1194.81,424.68 1195.04,423.97 1195.26,423.13 1195.49,422.29 1195.71,421.45 1195.94,420.61 1196.16,419.77 1196.38,418.93 1196.6,418.09 1196.82,417.25 1197.04,416.41 1197.26,415.57 1197.48,414.73 1197.69,413.96 1197.91,413.21 1198.13,412.45 1198.34,411.69 1198.56,410.94 1198.77,410.18 1198.98,409.42 1199.2,408.66 1199.41,407.9 1199.62,407.14 1199.83,406.39 1200.04,405.63 1200.25,404.91 1200.45,404.18 1200.66,403.45 1200.87,402.72 1201.07,402 1201.28,401.27 1201.48,400.54 1201.68,399.81 1201.88,399.08 1202.09,398.35 1202.29,397.62 1202.49,396.89 1202.69,396.05 1202.88,395.2 1203.08,394.35 1203.28,393.5 1203.47,392.65 1203.67,391.8 1203.86,390.95 1204.06,390.11 1204.25,389.26 1204.44,388.41 1204.63,387.56 1204.82,386.71 1205.01,385.87 1205.2,385.1 1205.39,384.34 1205.58,383.58 1205.76,382.81 1205.95,382.05 1206.13,381.28 1206.32,380.52 1206.5,379.75 1206.68,378.98 1206.86,378.22 1207.04,377.45 1207.22,376.68 1207.4,375.92 1207.58,375.15 1207.76,374.38 1207.94,373.61 1208.11,372.85 1208.29,372.08 1208.46,371.31 1208.64,370.54 1208.81,369.77 1208.98,369 1209.15,368.23 1209.33,367.46 1209.5,366.69 1209.67,365.92 1209.84,365.15 1210.01,364.38 1210.17,363.6 1210.34,362.82 1210.51,362.03 1210.67,361.25 1210.84,360.47 1211.01,359.69 1211.17,358.91 1211.33,358.12 1211.5,357.34 1211.66,356.56 1211.82,355.78 1211.99,354.99 1212.15,354.21 1212.31,353.43 1212.47,352.64 1212.63,351.86 1212.79,351.07 1212.95,350.28 1213.1,349.5 1213.26,348.71 1213.42,347.92 1213.58,347.14 1213.73,346.35 1213.89,345.56 1214.04,344.78 1214.2,343.99 1214.35,343.2 1214.51,342.42 1214.66,341.63 1214.82,340.84 1214.97,340.05 1215.12,339.3 1215.27,338.56 1215.43,337.82 1215.58,337.07 1215.73,336.33 1215.88,335.59 1216.03,334.84 1216.18,334.1 1216.33,333.36 1216.48,332.61 1216.63,331.87 1216.78,331.12 1216.93,330.38 1217.07,329.64 1217.22,328.89 1217.37,328.15 1217.52,327.39 1217.66,326.56 1217.81,325.72 1217.96,324.89 1218.1,324.05 1218.25,323.22 1218.4,322.38 1218.54,321.55 1218.69,320.71 1218.83,319.88 1218.98,319.05 1219.12,318.21 1219.27,317.38 1219.41,316.54 1219.56,315.71 1219.7,314.87 1219.85,314.04 1219.99,313.21 1220.14,312.39 1220.28,311.58 1220.42,310.77 1220.57,309.96 1220.71,309.15 1220.85,308.34 1221,307.53 1221.14,306.72 1221.28,305.92 1221.43,305.11 1221.57,304.3 1221.71,303.49 1221.86,302.68 1222,301.87 1222.14,301.06 1222.29,300.25 1222.43,299.44 1222.57,298.65 1222.71,297.89 1222.86,297.13 1223,296.37 1223.14,295.61 1223.29,294.84 1223.43,294.08 1223.57,293.32 1223.72,292.56 1223.86,291.8 1224,291.04 1224.15,290.27 1224.29,289.51 1224.43,288.75 1224.58,287.99 1224.72,287.23 1224.87,286.47 1225.01,285.71 1225.15,284.93 1225.3,284.15 1225.44,283.37 1225.59,282.59 1225.73,281.81 1225.88,281.03 1226.02,280.25 1226.17,279.47 1226.32,278.69 1226.46,277.91 1226.61,277.13 1226.75,276.36 1226.9,275.58 1227.05,274.8 1227.19,274.02 1227.34,273.24 1227.49,272.46 1227.64,271.65 1227.79,270.83 1227.93,270.01 1228.08,269.19 1228.23,268.37 1228.38,267.55 1228.53,266.73 1228.68,265.91 1228.83,265.09 1228.98,264.27 1229.13,263.45 1229.28,262.63 1229.43,261.81 1229.59,261 1229.74,260.18 1229.89,259.36 1230.05,258.56 1230.2,257.8 1230.35,257.05 1230.51,256.29 1230.66,255.54 1230.82,254.78 1230.97,254.03 1231.13,253.27 1231.29,252.52 1231.44,251.76 1231.6,251.01 1231.76,250.26 1231.92,249.5 1232.08,248.75 1232.24,248 1232.4,247.25 1232.56,246.47 1232.72,245.65 1232.88,244.84 1233.04,244.02 1233.2,243.21 1233.37,242.39 1233.53,241.57 1233.69,240.76 1233.86,239.94 1234.02,239.13 1234.19,238.31 1234.36,237.49 1234.52,236.68 1234.69,235.86 1234.86,235.05 1235.03,234.24 1235.19,233.51 1235.36,232.78 1235.53,232.05 1235.7,231.31 1235.87,230.58 1236.03,229.85 1236.2,229.12 1236.37,228.38 1236.54,227.65 1236.7,226.91 1236.87,226.18 1237.03,225.44 1237.2,224.71 1237.36,223.97 1237.53,223.22 1237.69,222.44 1237.85,221.65 1238.01,220.87 1238.17,220.08 1238.33,219.29 1238.49,218.5 1238.64,217.71 1238.8,216.92 1238.95,216.13 1239.11,215.34 1239.26,214.55 1239.41,213.75 1239.56,212.96 1239.7,212.16 1239.85,211.36 1239.99,210.56 1240.13,209.79 1240.27,209.01 1240.41,208.23 1240.55,207.45 1240.68,206.67 1240.81,205.89 1240.94,205.1 1241.07,204.31 1241.19,203.52 1241.32,202.73 1241.44,201.94 1241.55,201.14 1241.67,200.35 1241.78,199.55 1241.89,198.75 1242,197.94 1242.11,197.14 1242.21,196.33 1242.32,195.53 1242.43,194.73 1242.55,193.92 1242.67,193.09 1242.8,192.27 1242.93,191.45 1243.08,190.63 1243.24,189.82 1243.41,189.01 1243.59,188.21 1243.79,187.42 1244,186.63 1244.23,185.85 1244.48,185.07 1244.75,184.3 1245.04,183.55 1245.35,182.79 1245.69,182.04 1246.05,181.3 1246.44,180.58 1246.86,179.86 1247.3,179.16 1247.78,178.55 1248.29,178.03 1248.83,177.54 1249.4,177.08 1250,176.66 1250.62,175.96 1251.26,175.32 1251.91,174.73 1252.57,174.25 1253.24,174.24 1253.91,174.32 1254.59,174.5 1255.25,174.64 1255.91,174.67 1256.56,174.81 1257.2,175.06 1257.81,175.4 1258.41,175.83 1258.98,176.29 1259.53,176.77 1260.06,177.27 1260.56,177.77 1261.04,178.29 1261.5,178.82 1261.94,179.38 1262.36,179.96 1262.76,180.63 1263.14,181.36 1263.5,182.1 1263.85,182.85 1264.18,183.61 1264.5,184.38 1264.81,185.16 1265.1,185.96 1265.38,186.81 1265.64,187.67 1265.9,188.53 1266.14,189.4 1266.38,190.26 1266.61,191.13 1266.83,192.01 1267.04,192.88 1267.25,193.75 1267.45,194.63 1267.65,195.43 1267.84,196.21 1268.03,196.98 1268.22,197.76 1268.41,198.54 1268.6,199.32 1268.78,200.09 1268.97,200.87 1269.15,201.64 1269.33,202.42 1269.51,203.19 1269.69,203.96 1269.87,204.74 1270.05,205.5 1270.23,206.22 1270.41,206.95 1270.58,207.68 1270.76,208.4 1270.93,209.13 1271.11,209.86 1271.28,210.58 1271.45,211.31 1271.62,212.03 1271.79,212.76 1271.96,213.48 1272.13,214.2 1272.3,214.93 1272.47,215.65 1272.63,216.44 1272.8,217.25 1272.96,218.06 1273.12,218.87 1273.29,219.68 1273.45,220.49 1273.61,221.3 1273.77,222.11 1273.93,222.91 1274.09,223.72 1274.25,224.52 1274.41,225.33 1274.56,226.13 1274.72,226.94 1274.87,227.74 1275.03,228.54 1275.18,229.33 1275.34,230.11 1275.49,230.89 1275.64,231.67 1275.79,232.46 1275.94,233.24 1276.09,234.02 1276.24,234.8 1276.39,235.58 1276.54,236.36 1276.69,237.15 1276.83,237.93 1276.98,238.71 1277.12,239.49 1277.27,240.27 1277.41,241.05 1277.56,241.83 1277.7,242.61 1277.84,243.39 1277.99,244.16 1278.13,244.94 1278.27,245.72 1278.41,246.5 1278.55,247.28 1278.69,248.06 1278.83,248.84 1278.97,249.62 1279.1,250.4 1279.24,251.18 1279.38,251.96 1279.51,252.74 1279.65,253.52 1279.78,254.3 1279.92,255.08 1280.05,255.86 1280.19,256.66 1280.32,257.45 1280.46,258.24 1280.59,259.04 1280.72,259.83 1280.85,260.63 1280.98,261.42 1281.12,262.22 1281.25,263.01 1281.38,263.81 1281.51,264.6 1281.64,265.4 1281.77,266.19 1281.89,266.99 1282.02,267.79 1282.15,268.59 1282.28,269.38 1282.41,270.18 1282.53,270.98 1282.66,271.77 1282.79,272.56 1282.91,273.36 1283.04,274.15 1283.17,274.94 1283.29,275.74 1283.42,276.53 1283.54,277.32 1283.67,278.12 1283.79,278.91 1283.92,279.71 1284.04,280.5 1284.16,281.3 1284.29,282.09 1284.41,282.89 1284.53,283.68 1284.66,284.48 1284.78,285.28 1284.9,286.07 1285.03,286.87 1285.15,287.66 1285.27,288.45 1285.39,289.24 1285.51,290.03 1285.64,290.82 1285.76,291.61 1285.88,292.4 1286,293.19 1286.12,293.98 1286.24,294.77 1286.37,295.56 1286.49,296.35 1286.61,297.15 1286.73,297.94 1286.85,298.73 1286.97,299.52 1287.09,300.31 1287.21,301.1 1287.33,301.9 1287.45,302.69 1287.58,303.48 1287.7,304.28 1287.82,305.08 1287.94,305.88 1288.06,306.67 1288.18,307.47 1288.3,308.27 1288.42,309.07 1288.54,309.87 1288.66,310.67 1288.79,311.46 1288.91,312.26 1289.03,313.06 1289.15,313.86 1289.27,314.66 1289.39,315.45 1289.52,316.25 1289.64,317.05 1289.76,317.85 1289.88,318.65 1290,319.44 1290.13,320.22 1290.25,321 1290.37,321.78 1290.5,322.56 1290.62,323.34 1290.74,324.12 1290.87,324.9 1290.99,325.68 1291.11,326.46 1291.24,327.24 1291.36,328.02 1291.49,328.8 1291.61,329.58 1291.74,330.35 1291.86,331.13 1291.99,331.91 1292.11,332.69 1292.24,333.47 1292.37,334.25 1292.49,335.02 1292.62,335.79 1292.75,336.55 1292.88,337.32 1293.01,338.09 1293.13,338.85 1293.26,339.61 1293.39,340.38 1293.52,341.14 1293.65,341.91 1293.78,342.67 1293.91,343.43 1294.04,344.2 1294.17,344.96 1294.31,345.72 1294.44,346.49 1294.57,347.25 1294.7,348.01 1294.84,348.77 1294.97,349.53 1295.11,350.32 1295.24,351.12 1295.38,351.92 1295.51,352.71 1295.65,353.51 1295.78,354.3 1295.92,355.1 1296.06,355.9 1296.19,356.69 1296.33,357.49 1296.47,358.28 1296.61,359.08 1296.75,359.88 1296.89,360.67 1297.03,361.47 1297.17,362.26 1297.31,363.06 1297.45,363.85 1297.6,364.67 1297.74,365.5 1297.88,366.33 1298.03,367.17 1298.17,368 1298.31,368.83 1298.46,369.66 1298.6,370.49 1298.75,371.33 1298.9,372.16 1299.04,372.99 1299.19,373.82 1299.34,374.65 1299.49,375.49 1299.64,376.32 1299.79,377.15 1299.94,377.98 1300.09,378.77 1300.24,379.52 1300.39,380.27 1300.54,381.02 1300.7,381.77 1300.85,382.52 1301,383.27 1301.16,384.02 1301.31,384.77 1301.47,385.52 1301.62,386.27 1301.78,387.02 1301.94,387.77 1302.1,388.52 1302.25,389.26 1302.41,390.01 1302.57,390.79 1302.73,391.6 1302.89,392.42 1303.05,393.23 1303.22,394.04 1303.38,394.86 1303.54,395.67 1303.7,396.49 1303.87,397.3 1304.03,398.11 1304.2,398.93 1304.36,399.74 1304.53,400.55 1304.7,401.37 1304.87,402.18 1305.03,402.99 1305.2,403.76 1305.37,404.53 1305.54,405.3 1305.71,406.07 1305.89,406.84 1306.06,407.61 1306.23,408.37 1306.4,409.14 1306.58,409.91 1306.75,410.68 1306.93,411.45 1307.11,412.22 1307.28,412.99 1307.46,413.76 1307.64,414.52 1307.82,415.29 1308,416.05 1308.18,416.81 1308.36,417.58 1308.54,418.34 1308.72,419.1 1308.9,419.87 1309.09,420.63 1309.27,421.39 1309.46,422.16 1309.64,422.92 1309.83,423.68 1310.02,424.45 1310.2,425.24 1310.39,426.04 1310.58,426.84 1310.77,427.63 1310.96,428.43 1311.15,429.22 1311.35,430.02 1311.54,430.82 1311.73,431.61 1311.93,432.41 1312.12,433.21 1312.32,434 1312.51,434.79 1312.71,435.51 1312.91,436.23 1313.11,436.95 1313.31,437.66 1313.51,438.38 1313.71,439.1 1313.91,439.81 1314.11,440.53 1314.31,441.24 1314.52,441.96 1314.72,442.67 1314.92,443.39 1315.13,444.15 1315.33,444.94 1315.54,445.74 1315.74,446.53 1315.94,447.32 1316.15,448.11 1316.36,448.9 1316.56,449.69 1316.77,450.49 1316.97,451.28 1317.18,452.07 1317.38,452.86 1317.59,453.65 1317.8,454.43 1318,455.21 1318.21,456 1318.41,456.78 1318.62,457.56 1318.83,458.34 1319.03,459.12 1319.24,459.91 1319.44,460.69 1319.65,461.47 1319.85,462.25 1320.05,463.05 1320.26,463.91 1320.46,464.77 1320.67,465.62 1320.87,466.48 1321.07,467.33 1321.27,468.19 1321.47,469.04 1321.67,469.9 1321.87,470.75 1322.07,471.61 1322.27,472.46 1322.47,473.31 1322.67,474.09 1322.86,474.85 1323.06,475.62 1323.26,476.38 1323.45,477.14 1323.64,477.91 1323.84,478.67 1324.03,479.43 1324.22,480.19 1324.41,480.95 1324.61,481.72 1324.8,482.48 1325,483.24 1325.2,483.91 1325.4,484.59 1325.61,485.26 1325.82,485.93 1326.03,486.6 1326.25,487.26 1326.47,487.92 1326.7,488.58 1326.94,489.23 1327.18,489.87 1327.43,490.51 1327.68,491.28 1327.95,492.1 1328.22,492.93 1328.5,493.75 1328.79,494.58 1329.09,495.4 1329.4,496.23 1329.71,497.05 1330.04,497.86 1330.37,498.52 1330.7,499.18 1331.05,499.83 1331.39,500.48 1331.75,501.13 1332.11,501.78 1332.47,502.42 1332.84,503.14 1333.21,503.87 1333.58,504.6 1333.96,505.32 1334.34,506.05 1334.72,506.77 1335.1,507.5 1335.49,508.22 1335.87,508.95 1336.26,509.68 1336.65,510.41 1337.04,511.13 1337.44,511.85 1337.83,512.58 1338.23,513.3 1338.63,514.02 1339.04,514.74 1339.45,515.46 1339.86,516.18 1340.27,516.85 1340.68,517.45 1341.1,518.04 1341.53,518.63 1341.95,519.21 1342.38,519.79 1342.81,520.5 1343.24,521.25 1343.68,522 1344.13,522.75 1344.57,523.49 1345.02,524.23 1345.47,524.85 1345.93,525.46 1346.39,526.06 1346.86,526.67 1347.33,527.27 1347.8,527.91 1348.28,528.57 1348.76,529.23 1349.25,529.89 1349.74,530.54 1350.24,531.08 1350.74,531.5 1351.24,531.91 1351.75,532.31 1352.27,532.71 1352.79,533.47 1353.32,534.52 1353.85,535.57 1354.39,536.63 1354.93,537.68 1355.48,537.92 1356.03,538.02 1356.59,538.12 1357.15,538.2 1357.72,538.62 1358.3,539.58 1358.88,540.54 1359.47,541.49 1360.07,542.36 1360.67,542.56 1361.27,542.74 1361.89,542.92 1362.51,543.09 1363.13,543.68 1363.77,544.26 1364.41,544.83 1365.05,545.39 1365.7,545.89 1366.36,546.39 1367.02,546.88 1367.69,547.36 1368.36,547.81 1369.04,548.24 1369.72,548.68 1370.4,548.95 1371.09,549.12 1371.79,549.27 1372.49,549.42 1373.19,550.16 1373.9,550.91 1374.61,551.65 1375.32,552.2 1376.04,552.52 1376.76,552.83 1377.49,553.14 1378.21,553.6 1378.94,554.07 1379.67,554.53 1380.41,554.84 1381.15,555.02 1381.88,555.2 1382.62,555.38 1383.37,555.6 1384.11,555.82 1384.86,556.03 1385.6,556.45 1386.35,556.92 1387.1,557.38 1387.85,557.63 1388.6,557.63 1389.35,557.62 1390.11,557.73 1390.86,558.57 1391.62,559.41 1392.37,560.25 1393.13,560.2 1393.89,559.97 1394.65,559.74 1395.41,559.88 1396.17,560.36 1396.94,560.83 1397.7,561.25 1398.46,561.5 1399.23,561.76 1400,562 1400.76,562.15 1401.53,562.3 1402.3,562.44 1403.07,562.71 1403.84,563.03 1404.62,563.34 1405.39,563.56 1406.16,563.68 1406.94,563.79 1407.71,563.84 1408.49,563.71 1409.27,563.58 1410.04,563.48 1410.82,563.97 1411.6,564.45 1412.38,564.93 1413.16,565 1413.94,564.99 1414.73,564.98 1415.51,565.17 1416.29,565.45 1417.08,565.73 1417.86,565.73 1418.65,565.41 1419.43,565.08 1420.22,564.9 1421.01,565.07 1421.8,565.24 1422.59,565.43 1423.37,565.81 1424.16,566.18 1424.95,566.56 1425.74,566.53 1426.54,566.48 1427.33,566.43 1428.12,566.21 1428.91,565.96 1429.71,565.7 1430.5,565.91 1431.29,566.4 1432.09,566.9 1432.88,567.21 1433.68,567.33 1434.47,567.44 1435.27,567.48 1436.06,567.36 1436.86,567.24 1437.66,567.13 1438.46,567.08 1439.25,567.03 1440.05,567 1440.85,567.32 1441.65,567.64 1442.45,567.96 1443.24,568.15 1444.04,568.32 1444.84,568.5 1445.64,568.73 1446.44,568.98 1447.24,569.23 1448.04,569.34 1448.84,569.38 1449.64,569.43 1450.44,569.25 1451.24,568.88 1452.04,568.52 1452.84,568.47 1453.64,568.87 1454.44,569.26 1455.24,569.5 1456.05,569.41 1456.85,569.31 1457.65,569.23 1458.45,569.2 1459.25,569.18 1460.05,569.16 1460.85,569.32 1461.65,569.49 1462.45,569.65 1463.25,569.8 1464.05,569.95 1464.85,570.1 1465.65,570.15 1466.45,570.18 1467.25,570.21 1468.05,570.23 1468.85,570.25 1469.65,570.27 1470.45,570.34 1471.25,570.45 1472.05,570.56 1472.85,570.5 1473.65,570.21 1474.45,569.93 1475.25,569.83 1476.05,570.12 1476.85,570.41 1477.65,570.65 1478.45,570.66 1479.25,570.66 1480.05,570.68 1480.85,570.9 1481.65,571.12 1482.45,571.34 1483.25,571.02 1484.05,570.68 1484.84,570.33 1485.64,570.39 1486.44,570.56 1487.24,570.72 1488.04,570.88 1488.84,571.05 1489.64,571.21 1490.44,571.18 1491.24,570.97 1492.04,570.77 1492.83,570.78 1493.63,571.07 1494.43,571.36 1495.23,571.62 1496.03,571.8 1496.83,571.98 1497.63,572.05 1498.43,571.56 1499.22,571.08 1500.02,570.62 1500.82,571.41 1501.62,572.19 1502.42,572.97 1503.22,572.65 1504.02,572.2 1504.81,571.75 1505.61,571.86 1506.41,572.14 1507.21,572.42 1508.01,572.33 1508.81,572.02 1509.6,571.71 1510.4,571.57 1511.2,571.59 1512,571.61 1512.8,571.75 1513.6,572.08 1514.39,572.42 1515.19,572.67 1515.99,572.67 1516.79,572.67 1517.59,572.68 1518.38,572.84 1519.18,572.99 1519.98,573.15 1520.78,572.87 1521.58,572.58 1522.37,572.28 1523.17,572.6 1523.97,573.03 1524.77,573.47 1525.57,573.37 1526.36,573.06 1527.16,572.75 1527.96,572.6 1528.76,572.58 1529.56,572.56 1530.35,572.75 1531.15,573.22 1531.95,573.69 1532.75,574 1533.54,573.98 1534.34,573.96 1535.14,573.96 1535.94,574.09 1536.74,574.22 1537.53,574.34 1538.33,574.2 1539.13,574.06 1539.93,573.91 1540.73,574.02 1541.52,574.14 1542.32,574.27 1543.12,574.47 1543.92,574.68 1544.71,574.9 1545.51,574.97 1546.31,574.96 1547.11,574.95 1547.91,574.83 1548.7,574.6 1549.5,574.37 1550.3,574.25 1551.1,574.31 1551.9,574.37 1552.69,574.39 1553.49,574.28 1554.29,574.17 1555.09,574.11 1555.88,574.35 1556.68,574.6 1557.48,574.85 1558.28,574.89 1559.08,574.93 1559.87,574.97 1560.67,574.69 1561.47,574.34 1562.27,574 1563.07,574.24 1563.86,574.71 1564.66,575.18 1565.46,575.13 1566.26,574.69 1567.06,574.26 1567.85,574.32 1568.65,574.99 1569.45,575.66 1570.25,575.96 1571.05,575.46 1571.84,574.95 1572.64,574.54 1573.44,574.52 1574.24,574.5 1575.04,574.49 1575.84,574.79 1576.63,575.1 1577.43,575.4 1578.23,575.73 1579.03,576.08 1579.83,576.42 1580.63,576.19 1581.42,575.81 1582.22,575.43 1583.02,575.6 1583.82,576.06 1584.62,576.51 1585.42,576.67 1586.22,576.55 1587.01,576.44 1587.81,576.31 1588.61,576.18 1589.41,576.05 1590.21,575.9 1591.01,575.71 1591.81,575.51 1592.61,575.36 1593.4,575.53 1594.2,575.69 1595,575.86 1595.8,576.2 1596.6,576.54 1597.4,576.88 1598.2,576.67 1599,576.38 1599.8,576.09 1600.6,575.9 1601.39,575.74 1602.19,575.58 1602.99,575.78 1603.79,576.2 1604.59,576.62 1605.39,576.7 1606.19,576.42 1606.99,576.14 1607.79,576.13 1608.59,576.56 1609.39,576.99 1610.19,577.35 1610.99,577.5 1611.79,577.64 1612.59,577.76 1613.39,577.7 1614.19,577.65 1614.99,577.59 1615.79,577.12 1616.59,576.64 1617.39,576.17 1618.19,576.4 1618.99,576.74 1619.79,577.09 1620.59,577.05 1621.39,576.86 1622.19,576.68 1622.99,576.72 1623.79,576.9 1624.59,577.09 1625.39,577.2 1626.19,577.24 1626.99,577.28 1627.79,577.36 1628.59,577.5 1629.39,577.63 1630.19,577.74 1631,577.76 1631.8,577.78 1632.6,577.81 1633.4,577.85 1634.2,577.9 1635,577.95 1635.8,578.18 1636.6,578.41 1637.41,578.64 1638.21,578.39 1639.01,578.07 1639.81,577.75 1640.61,577.76 1641.41,577.87 1642.22,577.97 1643.02,578.03" fill="none" stroke="#808000" stroke-width="4.8" stroke-linejoin="round"/>
<path d="M987.5,481.82 988.29,481.88 989.08,481.94 989.87,482.02 990.67,481.91 991.46,481.77 992.26,481.65 993.05,481.54 993.85,481.45 994.65,481.36 995.45,481.37 996.25,481.46 997.05,481.56 997.86,481.64 998.66,481.72 999.46,481.8 1000.27,481.86 1001.07,481.89 1001.87,481.91 1002.68,482.01 1003.48,482.37 1004.29,482.72 1005.09,483.02 1005.9,482.92 1006.7,482.82 1007.5,482.71 1008.31,482.75 1009.11,482.78 1009.91,482.8 1010.71,482.68 1011.51,482.54 1012.31,482.39 1013.11,482.48 1013.91,482.64 1014.7,482.78 1015.49,482.68 1016.29,482.41 1017.08,482.14 1017.87,482.14 1018.65,482.46 1019.44,482.77 1020.22,482.89 1021.01,482.59 1021.78,482.28 1022.56,481.95 1023.34,481.75 1024.11,481.52 1024.87,481.28 1025.64,481.01 1026.4,480.72 1027.16,480.42 1027.91,480.1 1028.66,479.77 1029.4,479.42 1030.14,479.08 1030.87,478.81 1031.6,478.54 1032.33,478.25 1033.04,477.9 1033.75,477.53 1034.46,477.14 1035.16,476.72 1035.85,476.22 1036.54,475.7 1037.22,475.17 1037.89,474.64 1038.55,474.11 1039.21,473.57 1039.85,473.03 1040.49,472.67 1041.13,472.36 1041.75,472.05 1042.36,471.72 1042.97,471.29 1043.57,470.83 1044.17,470.37 1044.75,469.89 1045.34,469.32 1045.91,468.68 1046.48,468.03 1047.04,467.38 1047.6,466.76 1048.16,466.32 1048.71,465.88 1049.25,465.43 1049.8,464.97 1050.34,464.28 1050.87,463.44 1051.4,462.6 1051.93,461.76 1052.46,460.92 1052.99,460.27 1053.51,459.64 1054.04,459 1054.56,458.36 1055.08,457.75 1055.6,457.34 1056.12,456.93 1056.64,456.51 1057.16,456.1 1057.69,455.61 1058.21,454.98 1058.74,454.35 1059.26,453.73 1059.79,453.11 1060.32,452.49 1060.86,451.88 1061.4,451.27 1061.94,450.66 1062.48,450.06 1063.03,449.55 1063.58,449.04 1064.14,448.54 1064.7,448.04 1065.27,447.47 1065.84,446.82 1066.42,446.17 1067,445.53 1067.59,444.89 1068.19,444.23 1068.8,443.57 1069.41,442.92 1070.03,442.28 1070.65,441.92 1071.29,441.56 1071.93,441.23 1072.58,440.92 1073.24,440.65 1073.91,440.41 1074.59,440.21 1075.27,439.81 1075.96,439.11 1076.66,438.44 1077.37,437.8 1078.09,437.83 1078.82,438.05 1079.55,438.32 1080.3,438.43 1081.05,438.28 1081.82,438.18 1082.59,438.14 1083.36,438.21 1084.14,438.32 1084.92,438.48 1085.7,438.78 1086.47,439.12 1087.24,439.5 1088,439.9 1088.74,440.33 1089.47,440.78 1090.18,441.27 1090.88,441.86 1091.56,442.46 1092.23,443.07 1092.88,443.64 1093.53,444.17 1094.16,444.72 1094.78,445.28 1095.38,445.8 1095.98,446.3 1096.56,446.8 1097.14,447.32 1097.71,447.81 1098.27,448.27 1098.82,448.73 1099.36,449.2 1099.9,449.67 1100.43,450.38 1100.96,451.14 1101.48,451.91 1101.99,452.67 1102.5,453.43 1103.01,453.99 1103.52,454.55 1104.02,455.11 1104.52,455.67 1105.02,456.23 1105.52,456.82 1106.02,457.42 1106.52,458.01 1107.02,458.59 1107.52,459.17 1108.02,459.64 1108.53,460.11 1109.03,460.58 1109.54,461.05 1110.05,461.53 1110.57,462.16 1111.09,462.78 1111.61,463.41 1112.13,464.04 1112.66,464.67 1113.19,465.31 1113.73,465.95 1114.27,466.6 1114.81,467.25 1115.37,467.8 1115.92,468.32 1116.48,468.83 1117.05,469.35 1117.62,469.9 1118.2,470.58 1118.78,471.26 1119.37,471.94 1119.96,472.62 1120.56,473.1 1121.16,473.57 1121.77,474.03 1122.38,474.48 1122.99,475.11 1123.62,475.78 1124.24,476.45 1124.87,477.11 1125.51,477.72 1126.15,478.31 1126.79,478.9 1127.44,479.47 1128.09,479.98 1128.75,480.48 1129.42,480.96 1130.08,481.4 1130.75,481.61 1131.43,481.81 1132.11,482 1132.79,482.35 1133.48,482.93 1134.17,483.5 1134.87,484.05 1135.57,484.57 1136.28,485.06 1136.99,485.54 1137.7,485.97 1138.42,486.27 1139.14,486.55 1139.87,486.81 1140.6,487.06 1141.33,487.29 1142.07,487.49 1142.81,487.76 1143.55,488.13 1144.3,488.47 1145.05,488.79 1145.81,488.97 1146.57,489.13 1147.33,489.27 1148.1,489.3 1148.87,489.27 1149.64,489.22 1150.42,489.07 1151.2,488.83 1151.98,488.57 1152.77,488.39 1153.56,488.37 1154.34,488.33 1155.13,488.23 1155.91,487.95 1156.69,487.64 1157.47,487.31 1158.25,487.29 1159.02,487.26 1159.78,487.2 1160.54,486.95 1161.29,486.62 1162.03,486.26 1162.76,485.81 1163.48,485.21 1164.19,484.59 1164.89,483.97 1165.58,483.6 1166.25,483.26 1166.91,482.9 1167.56,482.53 1168.19,482.09 1168.8,481.65 1169.39,481.19 1169.97,480.71 1170.53,480.1 1171.07,479.47 1171.6,478.82 1172.11,478.17 1172.61,477.53 1173.09,476.94 1173.56,476.34 1174.01,475.73 1174.45,475.1 1174.88,474.47 1175.29,473.9 1175.7,473.35 1176.09,472.79 1176.46,472.21 1176.83,471.63 1177.18,471.03 1177.53,470.41 1177.86,469.64 1178.19,468.88 1178.5,468.1 1178.81,467.33 1179.1,466.54 1179.39,465.76 1179.67,464.96 1179.94,464.17 1180.21,463.42 1180.47,462.69 1180.72,461.95 1180.97,461.2 1181.21,460.45 1181.44,459.7 1181.67,458.94 1181.9,458.18 1182.12,457.41 1182.33,456.64 1182.55,455.86 1182.76,455.05 1182.96,454.24 1183.17,453.42 1183.37,452.61 1183.57,451.79 1183.77,450.98 1183.97,450.16 1184.17,449.34 1184.37,448.53 1184.57,447.71 1184.77,446.9 1184.97,446.08 1185.17,445.29 1185.38,444.5 1185.58,443.72 1185.79,442.93 1185.99,442.15 1186.2,441.37 1186.41,440.59 1186.62,439.8 1186.83,439.03 1187.04,438.25 1187.25,437.47 1187.46,436.69 1187.67,435.92 1187.88,435.16 1188.1,434.4 1188.31,433.63 1188.53,432.87 1188.74,432.11 1188.96,431.35 1189.18,430.59 1189.39,429.83 1189.61,429.07 1189.83,428.31 1190.05,427.56 1190.27,426.84 1190.48,426.11 1190.7,425.39 1190.92,424.66 1191.14,423.94 1191.36,423.22 1191.58,422.49 1191.81,421.77 1192.03,421.05 1192.25,420.33 1192.47,419.61 1192.69,418.79 1192.91,417.96 1193.13,417.12 1193.35,416.28 1193.57,415.45 1193.79,414.62 1194.02,413.78 1194.24,412.95 1194.46,412.11 1194.68,411.28 1194.9,410.45 1195.12,409.63 1195.34,408.83 1195.56,408.03 1195.78,407.23 1195.99,406.43 1196.21,405.63 1196.43,404.83 1196.65,404.03 1196.86,403.23 1197.08,402.43 1197.3,401.63 1197.51,400.84 1197.73,400.15 1197.94,399.45 1198.16,398.76 1198.37,398.06 1198.58,397.37 1198.79,396.67 1199,395.97 1199.21,395.28 1199.42,394.58 1199.63,393.88 1199.84,393.18 1200.04,392.47 1200.25,391.69 1200.45,390.92 1200.66,390.14 1200.86,389.36 1201.06,388.59 1201.26,387.81 1201.46,387.03 1201.66,386.26 1201.86,385.48 1202.05,384.7 1202.25,383.92 1202.44,383.14 1202.63,382.37 1202.82,381.6 1203.01,380.83 1203.2,380.05 1203.39,379.28 1203.58,378.51 1203.76,377.74 1203.95,376.96 1204.13,376.19 1204.31,375.42 1204.5,374.64 1204.68,373.87 1204.86,373.09 1205.03,372.31 1205.21,371.49 1205.39,370.68 1205.56,369.87 1205.74,369.05 1205.91,368.24 1206.08,367.42 1206.25,366.61 1206.42,365.79 1206.59,364.98 1206.76,364.16 1206.93,363.34 1207.09,362.53 1207.26,361.71 1207.43,360.9 1207.59,360.11 1207.75,359.35 1207.91,358.59 1208.08,357.82 1208.24,357.06 1208.4,356.3 1208.56,355.54 1208.71,354.77 1208.87,354.01 1209.03,353.24 1209.18,352.48 1209.34,351.71 1209.49,350.95 1209.65,350.18 1209.8,349.42 1209.95,348.65 1210.1,347.89 1210.25,347.13 1210.4,346.36 1210.55,345.6 1210.7,344.84 1210.85,344.08 1211,343.31 1211.15,342.55 1211.29,341.79 1211.44,341.02 1211.58,340.26 1211.73,339.49 1211.87,338.73 1212.01,337.96 1212.16,337.2 1212.3,336.43 1212.44,335.66 1212.58,334.87 1212.72,334.06 1212.86,333.24 1213,332.43 1213.14,331.62 1213.28,330.81 1213.42,329.99 1213.56,329.18 1213.69,328.37 1213.83,327.55 1213.97,326.74 1214.1,325.93 1214.24,325.11 1214.38,324.3 1214.51,323.49 1214.65,322.67 1214.78,321.86 1214.91,321.05 1215.05,320.24 1215.18,319.45 1215.31,318.66 1215.45,317.87 1215.58,317.08 1215.71,316.29 1215.84,315.5 1215.97,314.71 1216.11,313.92 1216.24,313.13 1216.37,312.34 1216.5,311.55 1216.63,310.76 1216.76,309.97 1216.89,309.18 1217.02,308.39 1217.15,307.6 1217.28,306.8 1217.41,306.01 1217.54,305.22 1217.67,304.4 1217.8,303.58 1217.93,302.76 1218.06,301.94 1218.18,301.13 1218.31,300.31 1218.44,299.49 1218.57,298.67 1218.7,297.86 1218.83,297.04 1218.96,296.22 1219.09,295.41 1219.21,294.59 1219.34,293.77 1219.47,292.95 1219.6,292.14 1219.73,291.32 1219.86,290.5 1219.99,289.69 1220.12,288.89 1220.25,288.1 1220.38,287.3 1220.51,286.51 1220.64,285.71 1220.76,284.92 1220.89,284.12 1221.02,283.33 1221.16,282.53 1221.29,281.74 1221.42,280.95 1221.55,280.15 1221.68,279.36 1221.81,278.57 1221.94,277.77 1222.07,276.98 1222.2,276.19 1222.34,275.39 1222.47,274.6 1222.6,273.81 1222.74,273.01 1222.87,272.22 1223,271.43 1223.14,270.63 1223.27,269.84 1223.41,269.04 1223.54,268.25 1223.68,267.46 1223.81,266.67 1223.95,265.87 1224.09,265.08 1224.22,264.29 1224.36,263.5 1224.5,262.7 1224.64,261.91 1224.78,261.12 1224.91,260.33 1225.05,259.55 1225.19,258.79 1225.34,258.02 1225.48,257.26 1225.62,256.49 1225.76,255.73 1225.9,254.97 1226.05,254.2 1226.19,253.44 1226.34,252.68 1226.48,251.92 1226.63,251.16 1226.77,250.4 1226.92,249.64 1227.07,248.88 1227.22,248.12 1227.37,247.36 1227.52,246.6 1227.67,245.83 1227.82,245.07 1227.97,244.31 1228.12,243.55 1228.27,242.79 1228.43,242.02 1228.58,241.26 1228.74,240.5 1228.89,239.74 1229.05,238.98 1229.21,238.22 1229.37,237.47 1229.53,236.71 1229.69,235.95 1229.85,235.19 1230.01,234.44 1230.17,233.64 1230.33,232.84 1230.5,232.05 1230.66,231.25 1230.83,230.46 1231,229.66 1231.17,228.87 1231.33,228.07 1231.5,227.28 1231.67,226.48 1231.85,225.69 1232.02,224.89 1232.19,224.1 1232.37,223.3 1232.54,222.52 1232.72,221.79 1232.9,221.06 1233.08,220.33 1233.26,219.59 1233.44,218.86 1233.63,218.12 1233.81,217.39 1234,216.66 1234.19,215.92 1234.38,215.19 1234.57,214.45 1234.76,213.71 1234.96,212.98 1235.15,212.2 1235.35,211.41 1235.55,210.62 1235.75,209.83 1235.95,209.04 1236.15,208.25 1236.36,207.46 1236.57,206.66 1236.78,205.86 1236.99,205.06 1237.2,204.26 1237.42,203.46 1237.63,202.65 1237.85,201.83 1238.07,201.02 1238.3,200.2 1238.53,199.38 1238.76,198.57 1239.01,197.76 1239.27,196.96 1239.55,196.17 1239.84,195.39 1240.15,194.64 1240.49,193.92 1240.84,193.22 1241.23,192.54 1241.64,191.88 1242.08,191.25 1242.56,190.65 1243.07,190.03 1243.61,189.45 1244.2,188.9 1244.83,188.38 1245.49,187.92 1246.17,187.52 1246.88,187.16 1247.6,186.88 1248.34,186.77 1249.07,186.72 1249.81,186.75 1250.54,186.76 1251.26,186.82 1251.95,186.96 1252.63,187.19 1253.27,187.5 1253.88,187.9 1254.46,188.39 1254.99,188.96 1255.5,189.48 1255.98,190.06 1256.44,190.68 1256.87,191.33 1257.28,191.98 1257.67,192.69 1258.04,193.48 1258.4,194.27 1258.73,195.06 1259.06,195.85 1259.36,196.65 1259.65,197.44 1259.93,198.23 1260.2,199.06 1260.45,199.89 1260.69,200.72 1260.92,201.56 1261.14,202.39 1261.35,203.22 1261.55,204.04 1261.74,204.87 1261.93,205.7 1262.11,206.52 1262.28,207.35 1262.45,208.17 1262.61,208.94 1262.77,209.68 1262.93,210.42 1263.09,211.16 1263.24,211.91 1263.39,212.65 1263.55,213.39 1263.7,214.14 1263.85,214.88 1264.01,215.62 1264.16,216.37 1264.31,217.11 1264.47,217.85 1264.62,218.6 1264.77,219.34 1264.93,220.08 1265.08,220.85 1265.23,221.65 1265.39,222.44 1265.54,223.23 1265.69,224.02 1265.85,224.82 1266,225.61 1266.16,226.41 1266.31,227.2 1266.46,227.99 1266.62,228.79 1266.77,229.58 1266.92,230.37 1267.08,231.17 1267.23,231.96 1267.39,232.76 1267.54,233.55 1267.69,234.32 1267.85,235.1 1268,235.88 1268.15,236.66 1268.31,237.44 1268.46,238.22 1268.61,239 1268.77,239.78 1268.92,240.56 1269.08,241.34 1269.23,242.12 1269.38,242.9 1269.53,243.68 1269.69,244.46 1269.84,245.24 1269.99,246.02 1270.15,246.82 1270.3,247.62 1270.45,248.42 1270.6,249.22 1270.76,250.02 1270.91,250.82 1271.06,251.62 1271.21,252.41 1271.36,253.21 1271.52,254.02 1271.67,254.82 1271.82,255.62 1271.97,256.42 1272.12,257.22 1272.27,258.02 1272.42,258.82 1272.57,259.59 1272.72,260.34 1272.88,261.09 1273.03,261.84 1273.18,262.59 1273.33,263.34 1273.48,264.09 1273.62,264.84 1273.77,265.59 1273.92,266.34 1274.07,267.09 1274.22,267.84 1274.37,268.59 1274.52,269.34 1274.67,270.09 1274.81,270.84 1274.96,271.59 1275.11,272.38 1275.26,273.19 1275.4,274 1275.55,274.8 1275.7,275.61 1275.84,276.41 1275.99,277.22 1276.13,278.02 1276.28,278.83 1276.42,279.63 1276.57,280.44 1276.71,281.25 1276.86,282.05 1277,282.86 1277.14,283.66 1277.29,284.47 1277.43,285.27 1277.57,286.07 1277.72,286.85 1277.86,287.64 1278,288.42 1278.14,289.21 1278.28,289.99 1278.42,290.78 1278.57,291.56 1278.71,292.35 1278.85,293.13 1278.99,293.92 1279.13,294.71 1279.27,295.49 1279.41,296.28 1279.54,297.06 1279.68,297.85 1279.82,298.63 1279.96,299.42 1280.1,300.22 1280.24,301.02 1280.37,301.82 1280.51,302.62 1280.65,303.43 1280.79,304.23 1280.92,305.03 1281.06,305.84 1281.2,306.64 1281.33,307.44 1281.47,308.25 1281.61,309.05 1281.74,309.85 1281.88,310.66 1282.01,311.46 1282.15,312.26 1282.28,313.07 1282.42,313.87 1282.55,314.68 1282.69,315.49 1282.82,316.3 1282.96,317.11 1283.09,317.93 1283.23,318.74 1283.36,319.55 1283.5,320.37 1283.63,321.18 1283.76,321.99 1283.9,322.8 1284.03,323.62 1284.16,324.43 1284.3,325.24 1284.43,326.05 1284.57,326.87 1284.7,327.68 1284.83,328.49 1284.97,329.31 1285.1,330.08 1285.23,330.84 1285.37,331.59 1285.5,332.35 1285.63,333.11 1285.77,333.87 1285.9,334.63 1286.03,335.39 1286.16,336.15 1286.3,336.9 1286.43,337.66 1286.56,338.42 1286.7,339.18 1286.83,339.94 1286.96,340.7 1287.1,341.45 1287.23,342.21 1287.36,342.97 1287.5,343.73 1287.63,344.52 1287.76,345.32 1287.9,346.12 1288.03,346.91 1288.16,347.71 1288.3,348.51 1288.43,349.31 1288.56,350.1 1288.7,350.9 1288.83,351.7 1288.96,352.49 1289.1,353.29 1289.23,354.09 1289.37,354.88 1289.5,355.68 1289.64,356.48 1289.77,357.27 1289.9,358.07 1290.04,358.86 1290.17,359.64 1290.31,360.43 1290.44,361.21 1290.58,361.99 1290.72,362.78 1290.85,363.56 1290.99,364.34 1291.12,365.12 1291.26,365.91 1291.39,366.69 1291.53,367.47 1291.67,368.25 1291.8,369.04 1291.94,369.82 1292.08,370.6 1292.22,371.38 1292.35,372.17 1292.49,372.95 1292.63,373.72 1292.77,374.49 1292.91,375.26 1293.04,376.03 1293.18,376.8 1293.32,377.57 1293.46,378.34 1293.6,379.11 1293.74,379.88 1293.88,380.65 1294.02,381.42 1294.16,382.18 1294.3,382.95 1294.44,383.72 1294.58,384.49 1294.73,385.26 1294.87,386.03 1295.01,386.8 1295.15,387.56 1295.29,388.33 1295.44,389.09 1295.58,389.86 1295.72,390.62 1295.87,391.39 1296.01,392.15 1296.16,392.92 1296.3,393.68 1296.45,394.45 1296.59,395.21 1296.74,395.98 1296.89,396.74 1297.03,397.51 1297.18,398.27 1297.33,399.03 1297.47,399.8 1297.62,400.61 1297.77,401.43 1297.92,402.25 1298.07,403.07 1298.22,403.89 1298.37,404.71 1298.52,405.52 1298.67,406.34 1298.82,407.16 1298.97,407.98 1299.12,408.8 1299.28,409.62 1299.43,410.44 1299.58,411.26 1299.74,412.08 1299.89,412.9 1300.05,413.72 1300.2,414.52 1300.36,415.32 1300.51,416.13 1300.67,416.93 1300.83,417.73 1300.98,418.54 1301.14,419.34 1301.3,420.14 1301.46,420.95 1301.62,421.75 1301.78,422.56 1301.94,423.36 1302.1,424.16 1302.26,424.97 1302.42,425.77 1302.58,426.54 1302.75,427.29 1302.91,428.04 1303.07,428.79 1303.24,429.54 1303.4,430.28 1303.57,431.03 1303.73,431.78 1303.9,432.52 1304.07,433.27 1304.24,434.02 1304.4,434.76 1304.57,435.51 1304.74,436.25 1304.91,437 1305.08,437.75 1305.25,438.51 1305.43,439.27 1305.6,440.04 1305.77,440.8 1305.95,441.56 1306.12,442.32 1306.29,443.08 1306.47,443.84 1306.65,444.6 1306.82,445.36 1307,446.12 1307.18,446.87 1307.36,447.63 1307.54,448.41 1307.72,449.26 1307.9,450.11 1308.08,450.96 1308.26,451.81 1308.44,452.67 1308.63,453.52 1308.81,454.37 1308.99,455.22 1309.18,456.07 1309.37,456.92 1309.55,457.78 1309.74,458.63 1309.93,459.48 1310.12,460.25 1310.31,460.98 1310.5,461.7 1310.69,462.42 1310.88,463.15 1311.07,463.87 1311.27,464.59 1311.46,465.31 1311.65,466.03 1311.85,466.75 1312.05,467.47 1312.24,468.19 1312.44,468.91 1312.64,469.68 1312.84,470.47 1313.04,471.26 1313.24,472.05 1313.44,472.83 1313.65,473.62 1313.85,474.41 1314.05,475.2 1314.26,475.98 1314.47,476.77 1314.67,477.56 1314.88,478.35 1315.09,479.13 1315.3,479.9 1315.51,480.68 1315.72,481.45 1315.93,482.23 1316.14,483 1316.36,483.78 1316.57,484.55 1316.79,485.32 1317.01,486.1 1317.22,486.87 1317.44,487.65 1317.66,488.42 1317.88,489.2 1318.1,489.97 1318.32,490.75 1318.55,491.52 1318.77,492.3 1319,493.07 1319.22,493.84 1319.45,494.62 1319.68,495.39 1319.92,496.16 1320.15,496.95 1320.39,497.75 1320.62,498.55 1320.87,499.34 1321.11,500.14 1321.36,500.93 1321.6,501.73 1321.86,502.52 1322.11,503.31 1322.37,504.1 1322.63,504.84 1322.9,505.52 1323.17,506.19 1323.44,506.86 1323.72,507.53 1324,508.2 1324.28,508.86 1324.57,509.52 1324.86,510.18 1325.16,510.89 1325.46,511.66 1325.77,512.42 1326.08,513.18 1326.4,513.94 1326.72,514.69 1327.05,515.45 1327.38,516.2 1327.72,516.95 1328.07,517.69 1328.42,518.44 1328.78,519.18 1329.14,519.92 1329.51,520.66 1329.88,521.4 1330.27,522.06 1330.66,522.69 1331.05,523.31 1331.45,523.93 1331.86,524.55 1332.28,525.16 1332.7,525.8 1333.13,526.47 1333.56,527.14 1334,527.8 1334.45,528.46 1334.91,529.11 1335.37,529.81 1335.83,530.51 1336.31,531.21 1336.78,531.91 1337.27,532.6 1337.76,533.27 1338.26,533.93 1338.76,534.58 1339.27,535.23 1339.78,535.88 1340.3,536.61 1340.83,537.23 1341.36,537.85 1341.9,538.46 1342.44,539.06 1342.99,539.47 1343.55,539.84 1344.11,540.2 1344.67,540.55 1345.24,541.09 1345.82,541.87 1346.4,542.64 1346.99,543.41 1347.58,544.14 1348.18,544.6 1348.78,545.05 1349.39,545.5 1350,545.93 1350.62,546.41 1351.24,546.88 1351.87,547.34 1352.5,547.8 1353.14,548.45 1353.78,549.1 1354.43,549.74 1355.08,550.34 1355.74,550.76 1356.4,551.17 1357.07,551.57 1357.74,552.05 1358.41,552.68 1359.09,553.3 1359.77,553.92 1360.46,554 1361.15,553.81 1361.85,553.61 1362.55,553.47 1363.26,554.23 1363.96,554.99 1364.68,555.75 1365.39,556.24 1366.11,556.53 1366.83,556.8 1367.56,557.06 1368.28,557.23 1369.01,557.38 1369.75,557.53 1370.49,557.8 1371.23,558.13 1371.97,558.45 1372.71,558.78 1373.46,559.15 1374.21,559.51 1374.96,559.87 1375.71,560.33 1376.47,560.78 1377.23,561.24 1377.99,561.48 1378.75,561.61 1379.51,561.73 1380.28,562.05 1381.04,562.71 1381.81,563.38 1382.58,563.91 1383.35,563.29 1384.12,562.67 1384.89,562.05 1385.66,562.86 1386.43,563.93 1387.21,564.98 1387.98,565.42 1388.75,565.47 1389.53,565.52 1390.31,565.58 1391.08,565.66 1391.86,565.73 1392.64,565.79 1393.42,565.76 1394.2,565.72 1394.98,565.69 1395.76,565.95 1396.54,566.21 1397.32,566.47 1398.1,566.45 1398.89,566.35 1399.67,566.24 1400.46,566.28 1401.24,566.42 1402.03,566.55 1402.81,566.75 1403.6,567.07 1404.39,567.37 1405.17,567.71 1405.96,568.14 1406.75,568.57 1407.54,568.99 1408.33,569.16 1409.12,569.33 1409.91,569.5 1410.7,569.21 1411.49,568.87 1412.28,568.52 1413.07,568.91 1413.86,569.59 1414.65,570.27 1415.45,570.34 1416.24,569.93 1417.03,569.51 1417.83,569.35 1418.62,569.56 1419.41,569.76 1420.21,569.89 1421,569.83 1421.8,569.76 1422.59,569.74 1423.39,570.06 1424.18,570.38 1424.98,570.69 1425.77,570.73 1426.57,570.76 1427.37,570.79 1428.16,570.99 1428.96,571.23 1429.76,571.47 1430.55,571.37 1431.35,571.11 1432.15,570.85 1432.94,570.62 1433.74,570.42 1434.54,570.22 1435.33,570.42 1436.13,571.18 1436.93,571.94 1437.73,572.35 1438.52,571.88 1439.32,571.4 1440.12,571.05 1440.92,571.39 1441.71,571.73 1442.51,572.07 1443.31,572.32 1444.1,572.58 1444.9,572.83 1445.7,572.58 1446.49,572.26 1447.29,571.93 1448.09,572.22 1448.89,572.72 1449.68,573.23 1450.48,573.44 1451.28,573.47 1452.07,573.51 1452.87,573.34 1453.67,572.95 1454.46,572.56 1455.26,572.26 1456.06,572.17 1456.85,572.07 1457.65,572.09 1458.45,572.57 1459.24,573.04 1460.04,573.5 1460.84,573.51 1461.63,573.53 1462.43,573.54 1463.23,573.91 1464.02,574.31 1464.82,574.71 1465.62,574.64 1466.42,574.44 1467.21,574.23 1468.01,574.23 1468.81,574.33 1469.6,574.44 1470.4,574.53 1471.2,574.61 1471.99,574.69 1472.79,574.6 1473.59,574.22 1474.38,573.83 1475.18,573.56 1475.98,573.69 1476.77,573.83 1477.57,574 1478.37,574.62 1479.16,575.24 1479.96,575.85 1480.76,575.64 1481.55,575.4 1482.35,575.15 1483.15,574.98 1483.95,574.83 1484.74,574.67 1485.54,574.9 1486.34,575.3 1487.13,575.7 1487.93,576.12 1488.73,576.56 1489.53,577 1490.32,577.19 1491.12,577.02 1491.92,576.84 1492.72,576.68 1493.51,576.55 1494.31,576.42 1495.11,576.37 1495.9,576.81 1496.7,577.26 1497.5,577.71 1498.3,576.97 1499.1,576.24 1499.89,575.5 1500.69,576.03 1501.49,576.76 1502.29,577.49 1503.08,577.6 1503.88,577.49 1504.68,577.37 1505.48,577.07 1506.28,576.64 1507.07,576.2 1507.87,576.08 1508.67,576.32 1509.47,576.56 1510.27,576.75 1511.07,576.88 1511.86,577 1512.66,577.11 1513.46,577.19 1514.26,577.28 1515.06,577.33 1515.86,577.05 1516.65,576.76 1517.45,576.48 1518.25,576.88 1519.05,577.33 1519.85,577.78 1520.65,577.92 1521.45,578 1522.25,578.07 1523.04,578.08 1523.84,578.06 1524.64,578.05 1525.44,578.05 1526.24,578.06 1527.04,578.07 1527.84,578.21 1528.64,578.52 1529.44,578.83 1530.24,578.95 1531.03,578.63 1531.83,578.31 1532.63,578.14 1533.43,578.72 1534.23,579.31 1535.03,579.85 1535.83,579.3 1536.63,578.75 1537.43,578.2 1538.23,578.04 1539.03,577.91 1539.83,577.78 1540.63,578.11 1541.43,578.56 1542.23,579.01 1543.02,579.03 1543.82,578.83 1544.62,578.63 1545.42,578.43 1546.22,578.23 1547.02,578.04 1547.82,578.02 1548.62,578.27 1549.42,578.52 1550.22,578.8 1551.02,579.17 1551.82,579.53 1552.62,579.82 1553.42,579.7 1554.22,579.58 1555.02,579.47 1555.82,579.8 1556.62,580.13 1557.42,580.46 1558.22,580.44 1559.02,580.39 1559.82,580.33 1560.62,580.09 1561.42,579.8 1562.22,579.5 1563.02,579.49 1563.82,579.62 1564.62,579.76 1565.42,579.86 1566.22,579.93 1567.02,579.99 1567.82,579.97 1568.62,579.8 1569.42,579.63 1570.22,579.48 1571.02,579.34 1571.82,579.2 1572.62,579.11 1573.42,579.26 1574.22,579.42 1575.02,579.56 1575.82,579.43 1576.62,579.3 1577.42,579.17 1578.22,579.5 1579.02,579.88 1579.82,580.26 1580.62,580.44 1581.42,580.58 1582.22,580.71 1583.02,580.37 1583.82,579.78 1584.62,579.18 1585.42,578.91 1586.22,578.94 1587.02,578.96 1587.82,579.14 1588.62,579.53 1589.42,579.92 1590.22,580.23 1591.02,580.29 1591.82,580.36 1592.62,580.44 1593.42,580.66 1594.22,580.88 1595.02,581.09 1595.82,581.08 1596.62,581.07 1597.42,581.07 1598.22,580.88 1599.02,580.68 1599.82,580.47 1600.62,580.52 1601.42,580.65 1602.22,580.78 1603.02,580.51 1603.82,580.03 1604.62,579.55 1605.42,579.44 1606.22,579.65 1607.02,579.87 1607.82,580 1608.62,579.99 1609.42,579.98 1610.22,579.96 1611.02,579.92 1611.82,579.88 1612.62,579.83 1613.42,579.66 1614.22,579.5 1615.02,579.35 1615.82,579.36 1616.62,579.38 1617.42,579.4 1618.22,579.67 1619.02,579.97 1619.82,580.27 1620.62,580.14 1621.42,579.87 1622.22,579.61 1623.02,579.42 1623.82,579.26 1624.62,579.1 1625.41,579.33 1626.21,579.91 1627.01,580.49 1627.81,580.9 1628.61,581.06 1629.41,581.22 1630.21,581.19 1631.01,580.63 1631.81,580.08 1632.61,579.67 1633.41,580.17 1634.21,580.68 1635.01,581.18 1635.81,581.09 1636.6,581 1637.4,580.91 1638.2,580.86 1639,580.82 1639.8,580.78 1640.6,580.7 1641.4,580.6 1642.2,580.51 1643,580.37" fill="none" stroke="#000080" stroke-width="4.8" stroke-linejoin="round"/>
<path d="M987.58,481.1 988.34,481.3 989.1,481.49 989.86,481.69 990.63,481.69 991.41,481.65 992.18,481.6 992.97,481.56 993.75,481.52 994.54,481.48 995.33,481.5 996.12,481.61 996.92,481.72 997.72,481.81 998.52,481.88 999.32,481.94 1000.13,482 1000.94,482 1001.75,481.99 1002.56,482 1003.37,482.31 1004.18,482.62 1005,482.93 1005.81,482.77 1006.63,482.61 1007.44,482.45 1008.26,482.41 1009.07,482.38 1009.89,482.34 1010.7,482.17 1011.52,481.97 1012.33,481.76 1013.14,481.81 1013.95,481.92 1014.76,482.02 1015.57,481.84 1016.38,481.53 1017.18,481.22 1017.99,481.29 1018.79,481.6 1019.59,481.9 1020.38,481.91 1021.17,481.62 1021.96,481.31 1022.75,481.04 1023.53,480.86 1024.31,480.67 1025.08,480.47 1025.86,480.24 1026.62,480 1027.38,479.75 1028.14,479.49 1028.9,479.22 1029.64,478.94 1030.39,478.71 1031.13,478.51 1031.86,478.31 1032.58,478.09 1033.31,477.8 1034.02,477.51 1034.73,477.2 1035.43,476.82 1036.13,476.39 1036.82,475.94 1037.5,475.48 1038.17,475.03 1038.84,474.57 1039.5,474.1 1040.15,473.67 1040.79,473.44 1041.43,473.19 1042.06,472.92 1042.68,472.6 1043.3,472.19 1043.9,471.77 1044.51,471.34 1045.1,470.87 1045.69,470.26 1046.27,469.63 1046.85,469 1047.43,468.35 1047.99,467.9 1048.56,467.47 1049.12,467.02 1049.67,466.57 1050.22,465.95 1050.77,465.09 1051.31,464.23 1051.86,463.37 1052.39,462.49 1052.93,461.78 1053.46,461.11 1053.99,460.43 1054.52,459.74 1055.05,459.07 1055.58,458.6 1056.11,458.12 1056.63,457.64 1057.16,457.16 1057.68,456.61 1058.21,455.91 1058.73,455.21 1059.26,454.51 1059.79,453.81 1060.32,453.12 1060.85,452.44 1061.38,451.76 1061.92,451.09 1062.46,450.43 1063,449.85 1063.55,449.29 1064.1,448.74 1064.65,448.21 1065.21,447.62 1065.78,446.94 1066.35,446.28 1066.92,445.63 1067.5,445 1068.09,444.35 1068.68,443.71 1069.28,443.1 1069.89,442.5 1070.5,442.14 1071.12,441.84 1071.75,441.58 1072.39,441.34 1073.04,441.14 1073.69,440.98 1074.36,440.85 1075.03,440.72 1075.72,440.09 1076.41,439.48 1077.12,438.9 1077.83,438.69 1078.55,438.92 1079.29,439.19 1080.03,439.46 1080.77,439.26 1081.53,439.08 1082.28,438.92 1083.05,438.83 1083.81,438.78 1084.58,438.75 1085.35,438.8 1086.12,438.93 1086.9,439.08 1087.67,439.26 1088.44,439.47 1089.21,439.7 1089.98,439.95 1090.74,440.35 1091.5,440.77 1092.25,441.21 1093,441.6 1093.74,441.97 1094.48,442.37 1095.2,442.75 1095.92,443.09 1096.63,443.44 1097.33,443.82 1098.01,444.14 1098.69,444.46 1099.35,444.8 1100,445.16 1100.63,445.87 1101.25,446.59 1101.85,447.32 1102.44,448.06 1103.01,448.61 1103.56,449.15 1104.1,449.7 1104.62,450.26 1105.14,450.84 1105.64,451.47 1106.13,452.1 1106.62,452.74 1107.09,453.39 1107.56,454.02 1108.03,454.58 1108.49,455.14 1108.95,455.71 1109.41,456.27 1109.86,456.84 1110.32,457.5 1110.78,458.21 1111.25,458.92 1111.71,459.62 1112.19,460.32 1112.67,461.01 1113.16,461.71 1113.66,462.39 1114.17,463.07 1114.69,463.74 1115.22,464.34 1115.77,464.85 1116.33,465.34 1116.91,465.82 1117.51,466.29 1118.12,466.91 1118.75,467.51 1119.39,468.11 1120.04,468.68 1120.71,469.02 1121.38,469.34 1122.07,469.66 1122.76,470.05 1123.46,470.59 1124.17,471.13 1124.88,471.66 1125.59,472.12 1126.31,472.57 1127.03,473.02 1127.75,473.43 1128.46,473.79 1129.18,474.14 1129.9,474.49 1130.61,474.61 1131.31,474.69 1132.01,474.76 1132.71,474.97 1133.41,475.47 1134.11,475.97 1134.81,476.47 1135.5,476.94 1136.21,477.39 1136.91,477.84 1137.62,478.27 1138.33,478.56 1139.04,478.86 1139.77,479.14 1140.5,479.43 1141.24,479.71 1141.99,479.98 1142.74,480.31 1143.51,480.77 1144.29,481.23 1145.07,481.66 1145.85,481.96 1146.65,482.25 1147.44,482.51 1148.24,482.63 1149.04,482.72 1149.84,482.78 1150.64,482.69 1151.44,482.55 1152.23,482.37 1153.03,482.35 1153.82,482.4 1154.6,482.42 1155.39,482.31 1156.16,482.07 1156.93,481.8 1157.7,481.59 1158.46,481.59 1159.21,481.57 1159.95,481.52 1160.68,481.22 1161.41,480.89 1162.12,480.53 1162.83,480.06 1163.52,479.45 1164.2,478.84 1164.87,478.2 1165.53,477.8 1166.17,477.44 1166.8,477.07 1167.42,476.67 1168.03,476.22 1168.62,475.75 1169.2,475.26 1169.77,474.76 1170.32,474.17 1170.87,473.51 1171.4,472.84 1171.93,472.17 1172.44,471.48 1172.94,470.85 1173.43,470.22 1173.91,469.58 1174.38,468.93 1174.85,468.28 1175.3,467.69 1175.74,467.13 1176.18,466.55 1176.61,465.97 1177.03,465.38 1177.44,464.79 1177.84,464.03 1178.24,463.25 1178.63,462.47 1179.01,461.68 1179.39,460.89 1179.76,460.1 1180.13,459.34 1180.48,458.64 1180.84,457.94 1181.19,457.23 1181.53,456.53 1181.87,455.83 1182.2,455.12 1182.53,454.4 1182.85,453.64 1183.17,452.87 1183.48,452.1 1183.79,451.33 1184.1,450.56 1184.4,449.78 1184.69,449.01 1184.99,448.24 1185.28,447.5 1185.56,446.76 1185.84,446.02 1186.12,445.28 1186.39,444.54 1186.66,443.8 1186.93,443.05 1187.19,442.31 1187.46,441.57 1187.71,440.83 1187.97,440.09 1188.22,439.36 1188.47,438.62 1188.72,437.88 1188.96,437.15 1189.2,436.41 1189.44,435.67 1189.68,434.93 1189.91,434.18 1190.15,433.46 1190.38,432.75 1190.61,432.04 1190.84,431.33 1191.06,430.61 1191.29,429.9 1191.51,429.18 1191.73,428.47 1191.95,427.75 1192.17,427.04 1192.39,426.32 1192.61,425.54 1192.83,424.71 1193.05,423.88 1193.26,423.04 1193.48,422.21 1193.69,421.38 1193.91,420.54 1194.12,419.71 1194.33,418.87 1194.55,418.04 1194.76,417.21 1194.97,416.37 1195.18,415.57 1195.39,414.76 1195.6,413.96 1195.81,413.15 1196.02,412.35 1196.23,411.55 1196.44,410.74 1196.64,409.94 1196.85,409.13 1197.06,408.33 1197.26,407.52 1197.47,406.72 1197.67,406 1197.88,405.29 1198.08,404.59 1198.28,403.88 1198.49,403.17 1198.69,402.46 1198.89,401.76 1199.09,401.05 1199.29,400.34 1199.49,399.63 1199.69,398.92 1199.89,398.21 1200.09,397.47 1200.29,396.68 1200.48,395.9 1200.68,395.12 1200.88,394.33 1201.07,393.55 1201.27,392.76 1201.46,391.98 1201.66,391.19 1201.85,390.41 1202.04,389.63 1202.24,388.84 1202.43,388.05 1202.62,387.27 1202.81,386.5 1203,385.72 1203.19,384.95 1203.38,384.17 1203.57,383.39 1203.76,382.61 1203.95,381.84 1204.13,381.06 1204.32,380.28 1204.51,379.5 1204.69,378.72 1204.88,377.95 1205.06,377.16 1205.25,376.34 1205.43,375.52 1205.61,374.7 1205.8,373.88 1205.98,373.07 1206.16,372.25 1206.34,371.43 1206.52,370.61 1206.7,369.79 1206.88,368.97 1207.06,368.16 1207.24,367.34 1207.42,366.52 1207.59,365.73 1207.77,364.97 1207.95,364.22 1208.12,363.46 1208.3,362.7 1208.47,361.94 1208.65,361.18 1208.82,360.42 1208.99,359.66 1209.17,358.9 1209.34,358.14 1209.51,357.38 1209.68,356.62 1209.85,355.86 1210.02,355.1 1210.19,354.34 1210.36,353.59 1210.53,352.83 1210.7,352.08 1210.87,351.32 1211.04,350.57 1211.2,349.81 1211.37,349.06 1211.53,348.3 1211.7,347.55 1211.86,346.79 1212.03,346.03 1212.19,345.28 1212.35,344.52 1212.52,343.76 1212.68,342.95 1212.84,342.14 1213,341.33 1213.16,340.52 1213.32,339.71 1213.48,338.9 1213.64,338.09 1213.8,337.28 1213.96,336.47 1214.12,335.66 1214.27,334.85 1214.43,334.04 1214.59,333.23 1214.74,332.42 1214.9,331.61 1215.05,330.81 1215.21,330.02 1215.36,329.24 1215.51,328.46 1215.67,327.68 1215.82,326.89 1215.97,326.11 1216.12,325.33 1216.27,324.55 1216.42,323.76 1216.57,322.98 1216.72,322.2 1216.87,321.41 1217.02,320.63 1217.16,319.85 1217.31,319.06 1217.46,318.28 1217.6,317.48 1217.75,316.66 1217.9,315.85 1218.04,315.04 1218.18,314.22 1218.33,313.41 1218.47,312.6 1218.61,311.78 1218.76,310.97 1218.9,310.16 1219.04,309.34 1219.18,308.53 1219.32,307.72 1219.46,306.91 1219.6,306.09 1219.74,305.28 1219.88,304.47 1220.02,303.66 1220.15,302.87 1220.29,302.08 1220.43,301.29 1220.56,300.5 1220.7,299.71 1220.83,298.92 1220.97,298.13 1221.1,297.34 1221.23,296.56 1221.37,295.77 1221.5,294.98 1221.63,294.19 1221.76,293.4 1221.89,292.61 1222.03,291.82 1222.16,291.03 1222.29,290.24 1222.42,289.46 1222.55,288.67 1222.68,287.88 1222.8,287.08 1222.93,286.29 1223.06,285.5 1223.19,284.71 1223.32,283.92 1223.45,283.13 1223.58,282.34 1223.71,281.55 1223.83,280.76 1223.96,279.97 1224.09,279.18 1224.22,278.39 1224.35,277.6 1224.48,276.81 1224.61,276.02 1224.74,275.23 1224.87,274.44 1225,273.65 1225.13,272.88 1225.26,272.12 1225.39,271.35 1225.53,270.58 1225.66,269.82 1225.79,269.05 1225.93,268.29 1226.06,267.52 1226.2,266.76 1226.33,265.99 1226.47,265.23 1226.61,264.46 1226.74,263.7 1226.88,262.93 1227.02,262.17 1227.16,261.41 1227.3,260.64 1227.44,259.88 1227.59,259.11 1227.73,258.35 1227.88,257.58 1228.02,256.81 1228.17,256.04 1228.32,255.28 1228.47,254.51 1228.62,253.74 1228.77,252.98 1228.92,252.21 1229.08,251.45 1229.23,250.68 1229.39,249.91 1229.54,249.15 1229.7,248.38 1229.86,247.62 1230.03,246.85 1230.19,246.04 1230.36,245.24 1230.52,244.43 1230.69,243.63 1230.86,242.82 1231.03,242.02 1231.2,241.21 1231.38,240.41 1231.56,239.6 1231.73,238.8 1231.91,237.99 1232.1,237.18 1232.28,236.38 1232.46,235.57 1232.65,234.82 1232.84,234.08 1233.03,233.34 1233.23,232.6 1233.42,231.86 1233.62,231.13 1233.82,230.39 1234.02,229.65 1234.22,228.92 1234.43,228.18 1234.64,227.45 1234.85,226.72 1235.06,225.97 1235.27,225.18 1235.49,224.4 1235.71,223.61 1235.93,222.83 1236.16,222.04 1236.38,221.26 1236.61,220.47 1236.85,219.69 1237.08,218.91 1237.32,218.12 1237.56,217.34 1237.8,216.54 1238.05,215.75 1238.29,214.96 1238.54,214.17 1238.8,213.38 1239.05,212.59 1239.31,211.79 1239.57,211 1239.84,210.21 1240.12,209.44 1240.42,208.69 1240.74,207.95 1241.08,207.23 1241.46,206.53 1241.89,205.85 1242.35,205.21 1242.87,204.56 1243.43,203.95 1244.02,203.38 1244.65,202.88 1245.3,202.45 1245.98,202.12 1246.67,201.88 1247.37,201.75 1248.07,201.82 1248.78,202.02 1249.48,202.31 1250.18,202.66 1250.86,203 1251.51,203.39 1252.15,203.84 1252.75,204.32 1253.32,204.82 1253.86,205.35 1254.37,205.91 1254.85,206.49 1255.3,207.03 1255.72,207.56 1256.11,208.13 1256.49,208.71 1256.84,209.32 1257.17,209.95 1257.48,210.6 1257.77,211.35 1258.05,212.12 1258.31,212.9 1258.56,213.69 1258.8,214.48 1259.03,215.28 1259.25,216.09 1259.46,216.9 1259.67,217.71 1259.87,218.52 1260.07,219.35 1260.27,220.2 1260.47,221.04 1260.67,221.89 1260.86,222.73 1261.06,223.58 1261.25,224.42 1261.45,225.26 1261.64,226.1 1261.83,226.95 1262.02,227.79 1262.21,228.63 1262.4,229.47 1262.59,230.26 1262.77,231 1262.96,231.74 1263.14,232.49 1263.32,233.23 1263.51,233.97 1263.69,234.71 1263.87,235.45 1264.05,236.19 1264.23,236.94 1264.41,237.68 1264.58,238.42 1264.76,239.16 1264.93,239.9 1265.11,240.68 1265.28,241.47 1265.45,242.27 1265.63,243.07 1265.8,243.87 1265.97,244.66 1266.14,245.46 1266.31,246.25 1266.47,247.05 1266.64,247.85 1266.81,248.64 1266.97,249.44 1267.14,250.23 1267.3,251.03 1267.47,251.82 1267.63,252.6 1267.79,253.38 1267.95,254.16 1268.11,254.94 1268.27,255.72 1268.43,256.49 1268.59,257.27 1268.75,258.05 1268.91,258.83 1269.06,259.61 1269.22,260.38 1269.38,261.16 1269.53,261.94 1269.69,262.72 1269.84,263.49 1269.99,264.27 1270.15,265.07 1270.3,265.86 1270.45,266.66 1270.6,267.46 1270.75,268.25 1270.9,269.05 1271.05,269.85 1271.2,270.64 1271.35,271.44 1271.5,272.24 1271.65,273.03 1271.79,273.83 1271.94,274.62 1272.09,275.42 1272.23,276.22 1272.38,277.01 1272.52,277.8 1272.67,278.55 1272.81,279.29 1272.96,280.04 1273.1,280.79 1273.24,281.54 1273.39,282.28 1273.53,283.03 1273.67,283.78 1273.81,284.53 1273.96,285.28 1274.1,286.02 1274.24,286.77 1274.38,287.52 1274.52,288.27 1274.66,289.02 1274.8,289.77 1274.94,290.52 1275.08,291.3 1275.22,292.1 1275.36,292.9 1275.5,293.7 1275.64,294.5 1275.78,295.3 1275.91,296.1 1276.05,296.9 1276.19,297.71 1276.33,298.51 1276.47,299.31 1276.6,300.11 1276.74,300.91 1276.88,301.72 1277.02,302.52 1277.15,303.32 1277.29,304.12 1277.43,304.93 1277.57,305.72 1277.7,306.5 1277.84,307.29 1277.98,308.07 1278.11,308.85 1278.25,309.64 1278.39,310.42 1278.52,311.2 1278.66,311.99 1278.8,312.77 1278.93,313.55 1279.07,314.34 1279.21,315.12 1279.34,315.91 1279.48,316.69 1279.61,317.48 1279.75,318.26 1279.89,319.05 1280.02,319.83 1280.16,320.64 1280.29,321.44 1280.43,322.24 1280.57,323.04 1280.7,323.84 1280.84,324.65 1280.97,325.45 1281.11,326.25 1281.25,327.06 1281.38,327.86 1281.52,328.66 1281.65,329.46 1281.79,330.27 1281.93,331.07 1282.06,331.87 1282.2,332.68 1282.34,333.48 1282.47,334.28 1282.61,335.09 1282.74,335.91 1282.88,336.72 1283.02,337.53 1283.15,338.35 1283.29,339.16 1283.43,339.97 1283.56,340.79 1283.7,341.6 1283.84,342.41 1283.97,343.23 1284.11,344.04 1284.25,344.85 1284.38,345.67 1284.52,346.48 1284.66,347.3 1284.8,348.11 1284.93,348.92 1285.07,349.71 1285.21,350.47 1285.35,351.22 1285.48,351.98 1285.62,352.74 1285.76,353.5 1285.9,354.25 1286.04,355.01 1286.18,355.77 1286.31,356.52 1286.45,357.28 1286.59,358.04 1286.73,358.8 1286.87,359.55 1287.01,360.31 1287.15,361.07 1287.29,361.82 1287.43,362.58 1287.57,363.36 1287.71,364.15 1287.85,364.95 1287.99,365.75 1288.13,366.55 1288.27,367.34 1288.41,368.14 1288.55,368.94 1288.7,369.73 1288.84,370.53 1288.98,371.33 1289.12,372.12 1289.26,372.92 1289.41,373.72 1289.55,374.51 1289.69,375.31 1289.84,376.11 1289.98,376.9 1290.12,377.69 1290.27,378.47 1290.41,379.25 1290.56,380.03 1290.7,380.81 1290.84,381.59 1290.99,382.37 1291.14,383.16 1291.28,383.94 1291.43,384.72 1291.57,385.5 1291.72,386.28 1291.87,387.06 1292.01,387.84 1292.16,388.62 1292.31,389.4 1292.46,390.18 1292.6,390.95 1292.75,391.72 1292.9,392.48 1293.05,393.25 1293.2,394.01 1293.35,394.78 1293.5,395.55 1293.65,396.31 1293.8,397.08 1293.95,397.84 1294.1,398.61 1294.25,399.37 1294.41,400.14 1294.56,400.9 1294.71,401.67 1294.86,402.43 1295.02,403.2 1295.17,403.96 1295.32,404.72 1295.48,405.48 1295.63,406.24 1295.79,407 1295.94,407.76 1296.1,408.52 1296.25,409.28 1296.41,410.04 1296.57,410.8 1296.73,411.56 1296.88,412.32 1297.04,413.08 1297.2,413.84 1297.36,414.59 1297.52,415.36 1297.68,416.18 1297.84,417 1298,417.82 1298.16,418.63 1298.32,419.45 1298.48,420.27 1298.64,421.09 1298.8,421.91 1298.97,422.73 1299.13,423.55 1299.29,424.36 1299.46,425.18 1299.62,426 1299.79,426.82 1299.95,427.64 1300.12,428.45 1300.28,429.25 1300.45,430.05 1300.62,430.85 1300.79,431.65 1300.95,432.45 1301.12,433.26 1301.29,434.06 1301.46,434.86 1301.63,435.66 1301.8,436.46 1301.97,437.26 1302.14,438.07 1302.32,438.87 1302.49,439.67 1302.66,440.42 1302.83,441.16 1303.01,441.9 1303.18,442.64 1303.36,443.39 1303.53,444.13 1303.71,444.87 1303.89,445.61 1304.06,446.35 1304.24,447.1 1304.42,447.84 1304.6,448.58 1304.77,449.32 1304.95,450.06 1305.13,450.81 1305.31,451.57 1305.5,452.33 1305.68,453.09 1305.86,453.84 1306.04,454.6 1306.23,455.36 1306.41,456.12 1306.59,456.87 1306.78,457.63 1306.96,458.39 1307.15,459.14 1307.34,459.9 1307.52,460.67 1307.71,461.52 1307.9,462.37 1308.09,463.23 1308.28,464.08 1308.47,464.93 1308.66,465.78 1308.85,466.64 1309.05,467.49 1309.24,468.35 1309.43,469.2 1309.63,470.05 1309.82,470.91 1310.02,471.75 1310.22,472.47 1310.42,473.19 1310.62,473.9 1310.82,474.62 1311.03,475.34 1311.23,476.05 1311.44,476.77 1311.65,477.48 1311.86,478.2 1312.07,478.91 1312.28,479.62 1312.49,480.33 1312.71,481.12 1312.93,481.9 1313.15,482.69 1313.37,483.47 1313.59,484.25 1313.82,485.04 1314.05,485.82 1314.28,486.6 1314.51,487.39 1314.74,488.17 1314.98,488.95 1315.22,489.71 1315.46,490.48 1315.7,491.25 1315.95,492.01 1316.19,492.77 1316.45,493.54 1316.7,494.3 1316.95,495.06 1317.21,495.82 1317.47,496.58 1317.74,497.34 1318.01,498.1 1318.28,498.86 1318.55,499.62 1318.82,500.38 1319.1,501.14 1319.38,501.9 1319.67,502.65 1319.96,503.41 1320.25,504.19 1320.54,504.97 1320.84,505.76 1321.14,506.54 1321.45,507.33 1321.76,508.11 1322.07,508.89 1322.39,509.68 1322.7,510.37 1323.03,511.01 1323.36,511.65 1323.69,512.29 1324.02,512.93 1324.36,513.56 1324.7,514.19 1325.05,514.83 1325.4,515.58 1325.76,516.33 1326.12,517.08 1326.49,517.83 1326.86,518.57 1327.23,519.31 1327.61,520.05 1327.99,520.78 1328.38,521.51 1328.78,522.24 1329.18,522.97 1329.58,523.69 1329.99,524.41 1330.4,525.02 1330.82,525.63 1331.25,526.22 1331.68,526.82 1332.11,527.4 1332.56,527.99 1333,528.64 1333.46,529.29 1333.91,529.92 1334.38,530.56 1334.85,531.19 1335.33,531.85 1335.81,532.53 1336.3,533.2 1336.79,533.86 1337.29,534.53 1337.8,535.17 1338.32,535.79 1338.84,536.41 1339.36,537.02 1339.9,537.62 1340.44,538.31 1340.99,538.89 1341.54,539.46 1342.1,540.03 1342.67,540.52 1343.25,540.84 1343.83,541.15 1344.42,541.44 1345.01,541.74 1345.62,542.48 1346.23,543.22 1346.85,543.95 1347.47,544.68 1348.1,545.09 1348.74,545.48 1349.38,545.86 1350.03,546.24 1350.69,546.65 1351.35,547.06 1352.01,547.46 1352.68,547.92 1353.36,548.52 1354.04,549.11 1354.73,549.71 1355.42,550.15 1356.12,550.51 1356.82,550.86 1357.53,551.21 1358.24,551.8 1358.96,552.39 1359.68,552.97 1360.4,553.08 1361.13,552.81 1361.86,552.53 1362.6,552.38 1363.34,553.12 1364.08,553.86 1364.82,554.59 1365.57,554.95 1366.33,555.19 1367.08,555.42 1367.84,555.6 1368.6,555.71 1369.36,555.82 1370.12,555.95 1370.89,556.25 1371.66,556.54 1372.43,556.82 1373.2,557.15 1373.98,557.49 1374.75,557.81 1375.53,558.21 1376.31,558.64 1377.09,559.07 1377.87,559.33 1378.65,559.42 1379.44,559.51 1380.22,559.75 1381,560.39 1381.79,561.03 1382.57,561.55 1383.35,560.88 1384.14,560.21 1384.92,559.53 1385.71,560.41 1386.49,561.45 1387.28,562.48 1388.06,562.79 1388.85,562.8 1389.63,562.81 1390.42,562.84 1391.21,562.88 1391.99,562.92 1392.78,562.92 1393.57,562.85 1394.35,562.78 1395.14,562.76 1395.93,563 1396.71,563.23 1397.5,563.46 1398.29,563.32 1399.07,563.19 1399.86,563.05 1400.65,563.11 1401.44,563.22 1402.23,563.33 1403.01,563.55 1403.8,563.83 1404.59,564.12 1405.38,564.46 1406.17,564.87 1406.96,565.28 1407.75,565.6 1408.54,565.76 1409.32,565.91 1410.11,565.99 1410.9,565.63 1411.69,565.27 1412.48,564.9 1413.27,565.55 1414.06,566.22 1414.85,566.89 1415.64,566.67 1416.43,566.26 1417.22,565.84 1418.01,565.82 1418.81,566.02 1419.6,566.22 1420.39,566.29 1421.18,566.23 1421.97,566.16 1422.76,566.22 1423.55,566.54 1424.34,566.86 1425.14,567.13 1425.93,567.16 1426.72,567.19 1427.51,567.23 1428.3,567.47 1429.1,567.72 1429.89,567.96 1430.68,567.78 1431.47,567.52 1432.27,567.27 1433.06,567.06 1433.85,566.86 1434.65,566.67 1435.44,567 1436.23,567.76 1437.03,568.52 1437.82,568.79 1438.61,568.32 1439.41,567.85 1440.2,567.58 1440.99,567.92 1441.79,568.26 1442.58,568.59 1443.38,568.84 1444.17,569.1 1444.96,569.35 1445.76,569.05 1446.55,568.72 1447.35,568.4 1448.14,568.74 1448.94,569.24 1449.73,569.73 1450.53,569.92 1451.32,569.94 1452.12,569.97 1452.91,569.77 1453.71,569.38 1454.5,568.98 1455.3,568.69 1456.09,568.59 1456.89,568.49 1457.69,568.52 1458.48,568.99 1459.28,569.45 1460.07,569.88 1460.87,569.89 1461.67,569.89 1462.46,569.9 1463.26,570.27 1464.05,570.65 1464.85,571.04 1465.65,570.94 1466.44,570.73 1467.24,570.51 1468.04,570.5 1468.83,570.6 1469.63,570.69 1470.43,570.77 1471.23,570.84 1472.02,570.91 1472.82,570.79 1473.62,570.39 1474.41,569.99 1475.21,569.72 1476.01,569.85 1476.81,569.97 1477.6,570.16 1478.4,570.76 1479.2,571.36 1480,571.96 1480.8,571.71 1481.59,571.44 1482.39,571.18 1483.19,571 1483.99,570.84 1484.79,570.67 1485.58,570.91 1486.38,571.3 1487.18,571.69 1487.98,572.11 1488.78,572.54 1489.58,572.96 1490.37,573.1 1491.17,572.92 1491.97,572.73 1492.77,572.56 1493.57,572.42 1494.37,572.28 1495.17,572.26 1495.97,572.69 1496.76,573.13 1497.56,573.48 1498.36,572.73 1499.16,571.98 1499.96,571.24 1500.76,571.88 1501.56,572.61 1502.36,573.33 1503.16,573.36 1503.96,573.24 1504.76,573.12 1505.55,572.77 1506.35,572.33 1507.15,571.89 1507.95,571.83 1508.75,572.06 1509.55,572.3 1510.35,572.48 1511.15,572.6 1511.95,572.72 1512.75,572.82 1513.55,572.9 1514.35,572.98 1515.15,572.99 1515.95,572.7 1516.75,572.41 1517.55,572.17 1518.35,572.62 1519.15,573.07 1519.95,573.52 1520.75,573.61 1521.55,573.68 1522.35,573.76 1523.15,573.76 1523.95,573.74 1524.75,573.72 1525.55,573.73 1526.35,573.74 1527.15,573.76 1527.95,573.94 1528.75,574.25 1529.55,574.56 1530.35,574.59 1531.15,574.28 1531.95,573.96 1532.75,573.92 1533.55,574.51 1534.35,575.1 1535.15,575.48 1535.95,574.93 1536.75,574.39 1537.55,573.87 1538.35,573.75 1539.15,573.63 1539.95,573.51 1540.75,573.93 1541.55,574.39 1542.35,574.85 1543.15,574.77 1543.95,574.57 1544.75,574.38 1545.55,574.19 1546.35,574 1547.15,573.81 1547.96,573.88 1548.76,574.14 1549.56,574.4 1550.36,574.7 1551.16,575.08 1551.96,575.45 1552.76,575.67 1553.56,575.56 1554.36,575.45 1555.16,575.43 1555.96,575.77 1556.76,576.11 1557.56,576.42 1558.36,576.38 1559.16,576.33 1559.96,576.29 1560.76,576.02 1561.56,575.74 1562.36,575.46 1563.16,575.53 1563.96,575.68 1564.76,575.83 1565.56,575.93 1566.36,576.01 1567.16,576.09 1567.96,576.04 1568.76,575.88 1569.56,575.73 1570.36,575.59 1571.16,575.47 1571.96,575.35 1572.76,575.32 1573.56,575.49 1574.36,575.66 1575.16,575.77 1575.96,575.66 1576.76,575.54 1577.56,575.46 1578.36,575.86 1579.16,576.25 1579.96,576.65 1580.76,576.81 1581.55,576.96 1582.35,577.12 1583.15,576.67 1583.95,576.1 1584.75,575.52 1585.55,575.37 1586.35,575.41 1587.15,575.46 1587.95,575.71 1588.75,576.12 1589.55,576.53 1590.35,576.8 1591.15,576.89 1591.94,576.97 1592.74,577.1 1593.54,577.33 1594.34,577.57 1595.14,577.77 1595.94,577.78 1596.74,577.8 1597.54,577.8 1598.33,577.62 1599.13,577.43 1599.93,577.25 1600.73,577.37 1601.53,577.52 1602.33,577.66 1603.13,577.34 1603.92,576.88 1604.72,576.42 1605.52,576.42 1606.32,576.66 1607.12,576.9 1607.91,577.02 1608.71,577.03 1609.51,577.05 1610.31,577.05 1611.1,577.03 1611.9,577.02 1612.7,576.97 1613.5,576.83 1614.29,576.69 1615.09,576.58 1615.89,576.62 1616.69,576.66 1617.48,576.7 1618.28,577.02 1619.08,577.34 1619.87,577.67 1620.67,577.52 1621.47,577.28 1622.27,577.04 1623.06,576.88 1623.86,576.75 1624.66,576.62 1625.45,576.9 1626.25,577.51 1627.04,578.11 1627.84,578.53 1628.64,578.71 1629.43,578.9 1630.23,578.88 1631.02,578.35 1631.82,577.82 1632.62,577.45 1633.41,577.98 1634.21,578.51 1635,579.03 1635.8,578.97 1636.59,578.91 1637.39,578.84 1638.18,578.82 1638.98,578.81 1639.77,578.8 1640.57,578.74 1641.36,578.68 1642.16,578.61 1642.95,578.5" fill="none" stroke="#800000" stroke-width="4.8" stroke-linejoin="round"/>
<path d="M1362.5,59.8H1473.6" stroke="#00ff00" stroke-width="4.5" stroke-linecap="round"/>
<text class="t" x="1485.5" y="70.8">5460 S</text>
<path d="M1362.5,121.05H1473.6" stroke="#00ffff" stroke-width="4.5" stroke-linecap="round"/>
<text class="t" x="1485.5" y="132.05">7280 S</text>
<path d="M1362.5,182.3H1473.6" stroke="#808000" stroke-width="4.5" stroke-linecap="round"/>
<text class="t" x="1485.5" y="193.3">8130 S</text>
<path d="M1362.5,243.55H1473.6" stroke="#000080" stroke-width="4.5" stroke-linecap="round"/>
<text class="t" x="1485.5" y="254.55">8730 S</text>
<path d="M1362.5,304.8H1473.6" stroke="#800000" stroke-width="4.5" stroke-linecap="round"/>
<text class="t" x="1485.5" y="315.8">9430 S</text>
<text class="t" x="962" y="592.45" text-anchor="end">0.00</text>
<text class="t" x="962" y="514.26" text-anchor="end">0.01</text>
<text class="t" x="962" y="436.08" text-anchor="end">0.02</text>
<text class="t" x="962" y="357.89" text-anchor="end">0.03</text>
<text class="t" x="962" y="279.71" text-anchor="end">0.04</text>
<text class="t" x="962" y="201.52" text-anchor="end">0.05</text>
<text class="t" x="962" y="123.34" text-anchor="end">0.06</text>
<text class="t" x="962" y="45.15" text-anchor="end">0.07</text>
<text class="t" x="1057.29" y="633.4" text-anchor="middle">500</text>
<text class="t" x="1196.86" y="633.4" text-anchor="middle">600</text>
<text class="t" x="1336.44" y="633.4" text-anchor="middle">700</text>
<text class="t" x="1476.01" y="633.4" text-anchor="middle">800</text>
<text class="t" x="1615.59" y="633.4" text-anchor="middle">900</text>
<text class="lab" x="1315.5" y="679.3" text-anchor="middle">Wavelength (nm)</text>
<text class="lab" transform="translate(873,308.4) rotate(-90)" text-anchor="middle">Extinction</text>
<text class="pl" transform="translate(845.5,31.2) scale(1.07,1)">b</text>
</svg></body></html>
